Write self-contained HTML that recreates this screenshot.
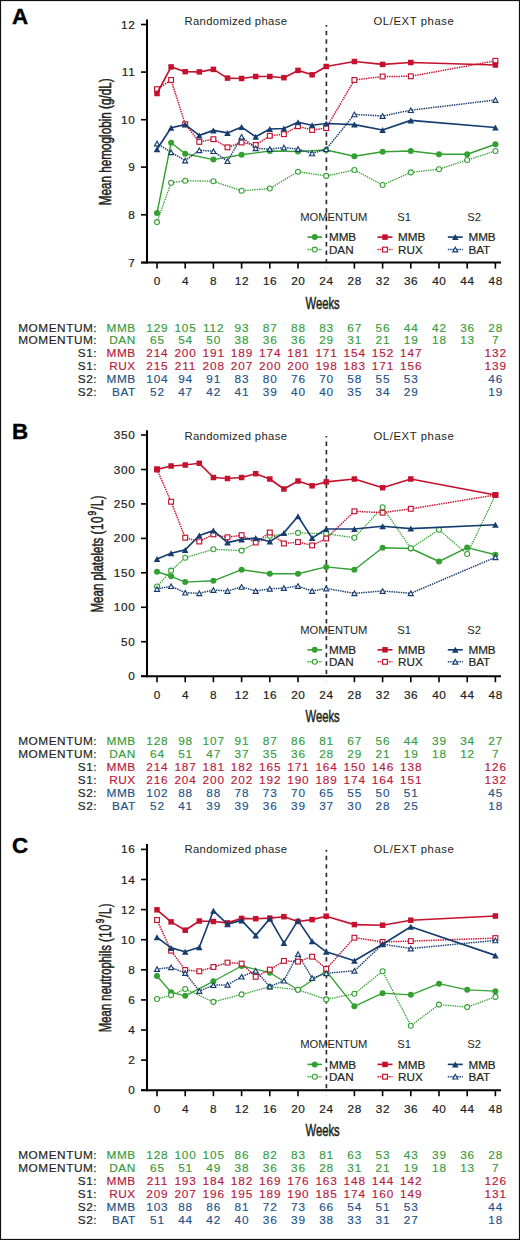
<!DOCTYPE html>
<html><head><meta charset="utf-8"><title>Figure</title>
<style>html,body{margin:0;padding:0;background:#fff;}body{width:520px;height:1240px;overflow:hidden;}svg{display:block;}</style>
</head><body>
<svg width="520" height="1240" viewBox="0 0 520 1240">
<style>text{font-family:"Liberation Sans",sans-serif}.tb{font-size:11.8px;letter-spacing:0.55px;stroke-width:0.18px}.tn{font-size:11.8px;letter-spacing:0.9px;stroke-width:0.15px}</style>
<rect x="0" y="0" width="520" height="1240" fill="#fff"/>
<text x="12.1" y="24.3" style="font-weight:bold;font-size:22.4px" fill="#000" stroke="#000" stroke-width="0.4">A</text>
<text x="184.4" y="24.6" textLength="102.6" lengthAdjust="spacing" style="font-family:'Liberation Sans',sans-serif;font-size:11.3px" fill="#231f20">Randomized phase</text>
<text x="373.5" y="24.6" textLength="80.3" lengthAdjust="spacing" style="font-family:'Liberation Sans',sans-serif;font-size:11.3px" fill="#231f20">OL/EXT phase</text>
<line x1="326.4" y1="25" x2="326.4" y2="262.6" stroke="#2c2c2c" stroke-width="1.65" stroke-dasharray="4.4 4.05" stroke-dashoffset="2.6"/>
<line x1="147" y1="19.4" x2="147" y2="263.6" stroke="#000" stroke-width="2"/>
<line x1="141" y1="262.6" x2="501" y2="262.6" stroke="#000" stroke-width="2"/>
<line x1="141" y1="24.5" x2="147" y2="24.5" stroke="#000" stroke-width="1.6"/>
<text x="135.3" y="28.5" text-anchor="end" style="font-family:'Liberation Sans',sans-serif;font-size:11.8px;letter-spacing:0.6px" fill="#231f20" stroke="#231f20" stroke-width="0.2">12</text>
<line x1="141" y1="72.1" x2="147" y2="72.1" stroke="#000" stroke-width="1.6"/>
<text x="135.3" y="76.1" text-anchor="end" style="font-family:'Liberation Sans',sans-serif;font-size:11.8px;letter-spacing:0.6px" fill="#231f20" stroke="#231f20" stroke-width="0.2">11</text>
<line x1="141" y1="119.7" x2="147" y2="119.7" stroke="#000" stroke-width="1.6"/>
<text x="135.3" y="123.7" text-anchor="end" style="font-family:'Liberation Sans',sans-serif;font-size:11.8px;letter-spacing:0.6px" fill="#231f20" stroke="#231f20" stroke-width="0.2">10</text>
<line x1="141" y1="167.1" x2="147" y2="167.1" stroke="#000" stroke-width="1.6"/>
<text x="135.3" y="171.1" text-anchor="end" style="font-family:'Liberation Sans',sans-serif;font-size:11.8px;letter-spacing:0.6px" fill="#231f20" stroke="#231f20" stroke-width="0.2">9</text>
<line x1="141" y1="214.8" x2="147" y2="214.8" stroke="#000" stroke-width="1.6"/>
<text x="135.3" y="218.8" text-anchor="end" style="font-family:'Liberation Sans',sans-serif;font-size:11.8px;letter-spacing:0.6px" fill="#231f20" stroke="#231f20" stroke-width="0.2">8</text>
<line x1="141" y1="262.6" x2="147" y2="262.6" stroke="#000" stroke-width="1.6"/>
<text x="135.3" y="266.6" text-anchor="end" style="font-family:'Liberation Sans',sans-serif;font-size:11.8px;letter-spacing:0.6px" fill="#231f20" stroke="#231f20" stroke-width="0.2">7</text>
<line x1="157" y1="262.6" x2="157" y2="268.6" stroke="#000" stroke-width="1.6"/>
<text x="157.3" y="285.1" text-anchor="middle" style="font-family:'Liberation Sans',sans-serif;font-size:11.8px;letter-spacing:0.6px" fill="#231f20" stroke="#231f20" stroke-width="0.2">0</text>
<line x1="185.2" y1="262.6" x2="185.2" y2="268.6" stroke="#000" stroke-width="1.6"/>
<text x="185.5" y="285.1" text-anchor="middle" style="font-family:'Liberation Sans',sans-serif;font-size:11.8px;letter-spacing:0.6px" fill="#231f20" stroke="#231f20" stroke-width="0.2">4</text>
<line x1="213.4" y1="262.6" x2="213.4" y2="268.6" stroke="#000" stroke-width="1.6"/>
<text x="213.7" y="285.1" text-anchor="middle" style="font-family:'Liberation Sans',sans-serif;font-size:11.8px;letter-spacing:0.6px" fill="#231f20" stroke="#231f20" stroke-width="0.2">8</text>
<line x1="241.6" y1="262.6" x2="241.6" y2="268.6" stroke="#000" stroke-width="1.6"/>
<text x="241.9" y="285.1" text-anchor="middle" style="font-family:'Liberation Sans',sans-serif;font-size:11.8px;letter-spacing:0.6px" fill="#231f20" stroke="#231f20" stroke-width="0.2">12</text>
<line x1="269.8" y1="262.6" x2="269.8" y2="268.6" stroke="#000" stroke-width="1.6"/>
<text x="270.1" y="285.1" text-anchor="middle" style="font-family:'Liberation Sans',sans-serif;font-size:11.8px;letter-spacing:0.6px" fill="#231f20" stroke="#231f20" stroke-width="0.2">16</text>
<line x1="298" y1="262.6" x2="298" y2="268.6" stroke="#000" stroke-width="1.6"/>
<text x="298.3" y="285.1" text-anchor="middle" style="font-family:'Liberation Sans',sans-serif;font-size:11.8px;letter-spacing:0.6px" fill="#231f20" stroke="#231f20" stroke-width="0.2">20</text>
<line x1="326.2" y1="267.6" x2="326.2" y2="268.8" stroke="#bbb" stroke-width="1"/>
<text x="326.5" y="285.1" text-anchor="middle" style="font-family:'Liberation Sans',sans-serif;font-size:11.8px;letter-spacing:0.6px" fill="#231f20" stroke="#231f20" stroke-width="0.2">24</text>
<line x1="354.4" y1="262.6" x2="354.4" y2="268.6" stroke="#000" stroke-width="1.6"/>
<text x="354.7" y="285.1" text-anchor="middle" style="font-family:'Liberation Sans',sans-serif;font-size:11.8px;letter-spacing:0.6px" fill="#231f20" stroke="#231f20" stroke-width="0.2">28</text>
<line x1="382.6" y1="262.6" x2="382.6" y2="268.6" stroke="#000" stroke-width="1.6"/>
<text x="382.9" y="285.1" text-anchor="middle" style="font-family:'Liberation Sans',sans-serif;font-size:11.8px;letter-spacing:0.6px" fill="#231f20" stroke="#231f20" stroke-width="0.2">32</text>
<line x1="410.8" y1="262.6" x2="410.8" y2="268.6" stroke="#000" stroke-width="1.6"/>
<text x="411.1" y="285.1" text-anchor="middle" style="font-family:'Liberation Sans',sans-serif;font-size:11.8px;letter-spacing:0.6px" fill="#231f20" stroke="#231f20" stroke-width="0.2">36</text>
<line x1="439" y1="262.6" x2="439" y2="268.6" stroke="#000" stroke-width="1.6"/>
<text x="439.3" y="285.1" text-anchor="middle" style="font-family:'Liberation Sans',sans-serif;font-size:11.8px;letter-spacing:0.6px" fill="#231f20" stroke="#231f20" stroke-width="0.2">40</text>
<line x1="467.2" y1="262.6" x2="467.2" y2="268.6" stroke="#000" stroke-width="1.6"/>
<text x="467.5" y="285.1" text-anchor="middle" style="font-family:'Liberation Sans',sans-serif;font-size:11.8px;letter-spacing:0.6px" fill="#231f20" stroke="#231f20" stroke-width="0.2">44</text>
<line x1="495.4" y1="262.6" x2="495.4" y2="268.6" stroke="#000" stroke-width="1.6"/>
<text x="495.7" y="285.1" text-anchor="middle" style="font-family:'Liberation Sans',sans-serif;font-size:11.8px;letter-spacing:0.6px" fill="#231f20" stroke="#231f20" stroke-width="0.2">48</text>
<text x="322.6" y="308.5" text-anchor="middle" textLength="34.2" lengthAdjust="spacingAndGlyphs" style="font-family:'Liberation Sans',sans-serif;font-size:16.6px" fill="#231f20" stroke="#231f20" stroke-width="0.5">Weeks</text>
<text transform="translate(111,141.8) rotate(-90)" x="0" y="0" text-anchor="middle" textLength="126.8" lengthAdjust="spacingAndGlyphs" style="font-family:'Liberation Sans',sans-serif;font-size:15.9px;font-weight:normal" fill="#231f20" stroke="#231f20" stroke-width="0.5">Mean hemoglobin (g/dL)</text>
<text x="300.2" y="220.8" style="font-family:'Liberation Sans',sans-serif;font-size:11.2px" fill="#231f20">MOMENTUM</text>
<text x="397.3" y="220.8" style="font-family:'Liberation Sans',sans-serif;font-size:11.2px" fill="#231f20">S1</text>
<text x="467.2" y="220.8" style="font-family:'Liberation Sans',sans-serif;font-size:11.2px" fill="#231f20">S2</text>
<line x1="307.5" y1="237.1" x2="322" y2="237.1" stroke="#34a032" stroke-width="1.65"/>
<circle cx="314.75" cy="237.1" r="3" fill="#34a032" stroke="none" stroke-width="0"/>
<text x="328.9" y="241.4" style="font-family:'Liberation Sans',sans-serif;font-size:11.7px" fill="#231f20" stroke="#231f20" stroke-width="0.2">MMB</text>
<line x1="307.5" y1="249.6" x2="322" y2="249.6" stroke="#34a032" stroke-width="1.5" stroke-dasharray="1.4 0.95"/>
<circle cx="314.75" cy="249.6" r="2.5" fill="#fff" stroke="#34a032" stroke-width="1.1"/>
<text x="328.9" y="253.9" style="font-family:'Liberation Sans',sans-serif;font-size:11.7px" fill="#231f20" stroke="#231f20" stroke-width="0.2">DAN</text>
<line x1="377.5" y1="237.1" x2="392.5" y2="237.1" stroke="#c5112d" stroke-width="1.65"/>
<rect x="382.25" y="234.35" width="5.5" height="5.5" fill="#c5112d" stroke="none" stroke-width="0"/>
<text x="398" y="241.4" style="font-family:'Liberation Sans',sans-serif;font-size:11.7px" fill="#231f20" stroke="#231f20" stroke-width="0.2">MMB</text>
<line x1="377.5" y1="249.6" x2="392.5" y2="249.6" stroke="#c5112d" stroke-width="1.5" stroke-dasharray="1.4 0.95"/>
<rect x="382.6" y="247.2" width="4.8" height="4.8" fill="#fff" stroke="#c5112d" stroke-width="1.15"/>
<text x="398" y="253.9" style="font-family:'Liberation Sans',sans-serif;font-size:11.7px" fill="#231f20" stroke="#231f20" stroke-width="0.2">RUX</text>
<line x1="447.8" y1="237.1" x2="462.8" y2="237.1" stroke="#163c70" stroke-width="1.65"/>
<polygon points="455.3,234.1 452,240.1 458.6,240.1" fill="#163c70" stroke="none" stroke-width="0" stroke-linejoin="miter"/>
<text x="468.4" y="241.4" style="font-family:'Liberation Sans',sans-serif;font-size:11.7px" fill="#231f20" stroke="#231f20" stroke-width="0.2">MMB</text>
<line x1="447.8" y1="249.6" x2="462.8" y2="249.6" stroke="#163c70" stroke-width="1.5" stroke-dasharray="1.4 0.95"/>
<polygon points="455.3,247.3 452.8,251.9 457.8,251.9" fill="#fff" stroke="#163c70" stroke-width="1.15" stroke-linejoin="miter"/>
<text x="468.4" y="253.9" style="font-family:'Liberation Sans',sans-serif;font-size:11.7px" fill="#231f20" stroke="#231f20" stroke-width="0.2">BAT</text>
<polyline points="157,213.1 171.1,142.7 185.2,153.8 213.4,159.6 241.6,154.8 269.8,151 298,151.5 326.2,150 354.4,156.2 382.6,151.7 410.8,151 439,154.2 467.2,154.2 495.4,144.2" fill="none" stroke="#34a032" stroke-width="1.45" stroke-linejoin="round"/>
<circle cx="157" cy="213.1" r="3" fill="#34a032" stroke="none" stroke-width="0"/>
<circle cx="171.1" cy="142.7" r="3" fill="#34a032" stroke="none" stroke-width="0"/>
<circle cx="185.2" cy="153.8" r="3" fill="#34a032" stroke="none" stroke-width="0"/>
<circle cx="213.4" cy="159.6" r="3" fill="#34a032" stroke="none" stroke-width="0"/>
<circle cx="241.6" cy="154.8" r="3" fill="#34a032" stroke="none" stroke-width="0"/>
<circle cx="269.8" cy="151" r="3" fill="#34a032" stroke="none" stroke-width="0"/>
<circle cx="298" cy="151.5" r="3" fill="#34a032" stroke="none" stroke-width="0"/>
<circle cx="326.2" cy="150" r="3" fill="#34a032" stroke="none" stroke-width="0"/>
<circle cx="354.4" cy="156.2" r="3" fill="#34a032" stroke="none" stroke-width="0"/>
<circle cx="382.6" cy="151.7" r="3" fill="#34a032" stroke="none" stroke-width="0"/>
<circle cx="410.8" cy="151" r="3" fill="#34a032" stroke="none" stroke-width="0"/>
<circle cx="439" cy="154.2" r="3" fill="#34a032" stroke="none" stroke-width="0"/>
<circle cx="467.2" cy="154.2" r="3" fill="#34a032" stroke="none" stroke-width="0"/>
<circle cx="495.4" cy="144.2" r="3" fill="#34a032" stroke="none" stroke-width="0"/>
<polyline points="157,222.1 171.1,182.7 185.2,180.8 213.4,181.2 241.6,190.8 269.8,188.5 298,171.7 326.2,175.9 354.4,170 382.6,185 410.8,172.4 439,169.2 467.2,160 495.4,151" fill="none" stroke="#34a032" stroke-width="1.3" stroke-dasharray="1.4 0.95" stroke-linejoin="round"/>
<circle cx="157" cy="222.1" r="2.5" fill="#fff" stroke="#34a032" stroke-width="1.1"/>
<circle cx="171.1" cy="182.7" r="2.5" fill="#fff" stroke="#34a032" stroke-width="1.1"/>
<circle cx="185.2" cy="180.8" r="2.5" fill="#fff" stroke="#34a032" stroke-width="1.1"/>
<circle cx="213.4" cy="181.2" r="2.5" fill="#fff" stroke="#34a032" stroke-width="1.1"/>
<circle cx="241.6" cy="190.8" r="2.5" fill="#fff" stroke="#34a032" stroke-width="1.1"/>
<circle cx="269.8" cy="188.5" r="2.5" fill="#fff" stroke="#34a032" stroke-width="1.1"/>
<circle cx="298" cy="171.7" r="2.5" fill="#fff" stroke="#34a032" stroke-width="1.1"/>
<circle cx="326.2" cy="175.9" r="2.5" fill="#fff" stroke="#34a032" stroke-width="1.1"/>
<circle cx="354.4" cy="170" r="2.5" fill="#fff" stroke="#34a032" stroke-width="1.1"/>
<circle cx="382.6" cy="185" r="2.5" fill="#fff" stroke="#34a032" stroke-width="1.1"/>
<circle cx="410.8" cy="172.4" r="2.5" fill="#fff" stroke="#34a032" stroke-width="1.1"/>
<circle cx="439" cy="169.2" r="2.5" fill="#fff" stroke="#34a032" stroke-width="1.1"/>
<circle cx="467.2" cy="160" r="2.5" fill="#fff" stroke="#34a032" stroke-width="1.1"/>
<circle cx="495.4" cy="151" r="2.5" fill="#fff" stroke="#34a032" stroke-width="1.1"/>
<polyline points="157,89.2 171.1,80 185.2,124.2 199.3,141.9 213.4,139.2 227.5,147.3 241.6,142.5 255.7,145 269.8,135.8 283.9,134.2 298,126.2 312.1,130 326.2,128.1 354.4,80 382.6,76.5 410.8,76.3 495.4,60.8" fill="none" stroke="#c5112d" stroke-width="1.5" stroke-dasharray="1.4 0.95" stroke-linejoin="round"/>
<rect x="154.6" y="86.8" width="4.8" height="4.8" fill="#fff" stroke="#c5112d" stroke-width="1.15"/>
<rect x="168.7" y="77.6" width="4.8" height="4.8" fill="#fff" stroke="#c5112d" stroke-width="1.15"/>
<rect x="182.8" y="121.8" width="4.8" height="4.8" fill="#fff" stroke="#c5112d" stroke-width="1.15"/>
<rect x="196.9" y="139.5" width="4.8" height="4.8" fill="#fff" stroke="#c5112d" stroke-width="1.15"/>
<rect x="211" y="136.8" width="4.8" height="4.8" fill="#fff" stroke="#c5112d" stroke-width="1.15"/>
<rect x="225.1" y="144.9" width="4.8" height="4.8" fill="#fff" stroke="#c5112d" stroke-width="1.15"/>
<rect x="239.2" y="140.1" width="4.8" height="4.8" fill="#fff" stroke="#c5112d" stroke-width="1.15"/>
<rect x="253.3" y="142.6" width="4.8" height="4.8" fill="#fff" stroke="#c5112d" stroke-width="1.15"/>
<rect x="267.4" y="133.4" width="4.8" height="4.8" fill="#fff" stroke="#c5112d" stroke-width="1.15"/>
<rect x="281.5" y="131.8" width="4.8" height="4.8" fill="#fff" stroke="#c5112d" stroke-width="1.15"/>
<rect x="295.6" y="123.8" width="4.8" height="4.8" fill="#fff" stroke="#c5112d" stroke-width="1.15"/>
<rect x="309.7" y="127.6" width="4.8" height="4.8" fill="#fff" stroke="#c5112d" stroke-width="1.15"/>
<rect x="323.8" y="125.7" width="4.8" height="4.8" fill="#fff" stroke="#c5112d" stroke-width="1.15"/>
<rect x="352" y="77.6" width="4.8" height="4.8" fill="#fff" stroke="#c5112d" stroke-width="1.15"/>
<rect x="380.2" y="74.1" width="4.8" height="4.8" fill="#fff" stroke="#c5112d" stroke-width="1.15"/>
<rect x="408.4" y="73.9" width="4.8" height="4.8" fill="#fff" stroke="#c5112d" stroke-width="1.15"/>
<rect x="493" y="58.4" width="4.8" height="4.8" fill="#fff" stroke="#c5112d" stroke-width="1.15"/>
<polyline points="157,93.5 171.1,66.9 185.2,71.7 199.3,71.9 213.4,69.4 227.5,78.1 241.6,78.5 255.7,76.5 269.8,76.5 283.9,77.7 298,70.4 312.1,74.8 326.2,66.5 354.4,61.5 382.6,64.4 410.8,62.5 495.4,65" fill="none" stroke="#c5112d" stroke-width="1.65" stroke-linejoin="round"/>
<rect x="154.25" y="90.75" width="5.5" height="5.5" fill="#c5112d" stroke="none" stroke-width="0"/>
<rect x="168.35" y="64.15" width="5.5" height="5.5" fill="#c5112d" stroke="none" stroke-width="0"/>
<rect x="182.45" y="68.95" width="5.5" height="5.5" fill="#c5112d" stroke="none" stroke-width="0"/>
<rect x="196.55" y="69.15" width="5.5" height="5.5" fill="#c5112d" stroke="none" stroke-width="0"/>
<rect x="210.65" y="66.65" width="5.5" height="5.5" fill="#c5112d" stroke="none" stroke-width="0"/>
<rect x="224.75" y="75.35" width="5.5" height="5.5" fill="#c5112d" stroke="none" stroke-width="0"/>
<rect x="238.85" y="75.75" width="5.5" height="5.5" fill="#c5112d" stroke="none" stroke-width="0"/>
<rect x="252.95" y="73.75" width="5.5" height="5.5" fill="#c5112d" stroke="none" stroke-width="0"/>
<rect x="267.05" y="73.75" width="5.5" height="5.5" fill="#c5112d" stroke="none" stroke-width="0"/>
<rect x="281.15" y="74.95" width="5.5" height="5.5" fill="#c5112d" stroke="none" stroke-width="0"/>
<rect x="295.25" y="67.65" width="5.5" height="5.5" fill="#c5112d" stroke="none" stroke-width="0"/>
<rect x="309.35" y="72.05" width="5.5" height="5.5" fill="#c5112d" stroke="none" stroke-width="0"/>
<rect x="323.45" y="63.75" width="5.5" height="5.5" fill="#c5112d" stroke="none" stroke-width="0"/>
<rect x="351.65" y="58.75" width="5.5" height="5.5" fill="#c5112d" stroke="none" stroke-width="0"/>
<rect x="379.85" y="61.65" width="5.5" height="5.5" fill="#c5112d" stroke="none" stroke-width="0"/>
<rect x="408.05" y="59.75" width="5.5" height="5.5" fill="#c5112d" stroke="none" stroke-width="0"/>
<rect x="492.65" y="62.25" width="5.5" height="5.5" fill="#c5112d" stroke="none" stroke-width="0"/>
<polyline points="157,143.5 171.1,152.3 185.2,160.6 199.3,150.3 213.4,151.2 227.5,161.2 241.6,136.8 255.7,148.3 269.8,149.1 283.9,147.5 298,149.1 312.1,153.4 326.2,149.2 354.4,114.4 382.6,116 410.8,110.2 495.4,100" fill="none" stroke="#163c70" stroke-width="1.5" stroke-dasharray="1.4 0.95" stroke-linejoin="round"/>
<polygon points="157,141.2 154.5,145.8 159.5,145.8" fill="#fff" stroke="#163c70" stroke-width="1.15" stroke-linejoin="miter"/>
<polygon points="171.1,150 168.6,154.6 173.6,154.6" fill="#fff" stroke="#163c70" stroke-width="1.15" stroke-linejoin="miter"/>
<polygon points="185.2,158.3 182.7,162.9 187.7,162.9" fill="#fff" stroke="#163c70" stroke-width="1.15" stroke-linejoin="miter"/>
<polygon points="199.3,148 196.8,152.6 201.8,152.6" fill="#fff" stroke="#163c70" stroke-width="1.15" stroke-linejoin="miter"/>
<polygon points="213.4,148.9 210.9,153.5 215.9,153.5" fill="#fff" stroke="#163c70" stroke-width="1.15" stroke-linejoin="miter"/>
<polygon points="227.5,158.9 225,163.5 230,163.5" fill="#fff" stroke="#163c70" stroke-width="1.15" stroke-linejoin="miter"/>
<polygon points="241.6,134.5 239.1,139.1 244.1,139.1" fill="#fff" stroke="#163c70" stroke-width="1.15" stroke-linejoin="miter"/>
<polygon points="255.7,146 253.2,150.6 258.2,150.6" fill="#fff" stroke="#163c70" stroke-width="1.15" stroke-linejoin="miter"/>
<polygon points="269.8,146.8 267.3,151.4 272.3,151.4" fill="#fff" stroke="#163c70" stroke-width="1.15" stroke-linejoin="miter"/>
<polygon points="283.9,145.2 281.4,149.8 286.4,149.8" fill="#fff" stroke="#163c70" stroke-width="1.15" stroke-linejoin="miter"/>
<polygon points="298,146.8 295.5,151.4 300.5,151.4" fill="#fff" stroke="#163c70" stroke-width="1.15" stroke-linejoin="miter"/>
<polygon points="312.1,151.1 309.6,155.7 314.6,155.7" fill="#fff" stroke="#163c70" stroke-width="1.15" stroke-linejoin="miter"/>
<polygon points="326.2,146.9 323.7,151.5 328.7,151.5" fill="#fff" stroke="#163c70" stroke-width="1.15" stroke-linejoin="miter"/>
<polygon points="354.4,112.1 351.9,116.7 356.9,116.7" fill="#fff" stroke="#163c70" stroke-width="1.15" stroke-linejoin="miter"/>
<polygon points="382.6,113.7 380.1,118.3 385.1,118.3" fill="#fff" stroke="#163c70" stroke-width="1.15" stroke-linejoin="miter"/>
<polygon points="410.8,107.9 408.3,112.5 413.3,112.5" fill="#fff" stroke="#163c70" stroke-width="1.15" stroke-linejoin="miter"/>
<polygon points="495.4,97.7 492.9,102.3 497.9,102.3" fill="#fff" stroke="#163c70" stroke-width="1.15" stroke-linejoin="miter"/>
<polyline points="157,149.2 171.1,127.7 185.2,124.6 199.3,135.4 213.4,130.4 227.5,132.9 241.6,127.1 255.7,136.7 269.8,129 283.9,128.5 298,122.3 312.1,125.2 326.2,123.5 354.4,124.6 382.6,130 410.8,120.4 495.4,127.5" fill="none" stroke="#163c70" stroke-width="1.65" stroke-linejoin="round"/>
<polygon points="157,146.2 153.7,152.2 160.3,152.2" fill="#163c70" stroke="none" stroke-width="0" stroke-linejoin="miter"/>
<polygon points="171.1,124.7 167.8,130.7 174.4,130.7" fill="#163c70" stroke="none" stroke-width="0" stroke-linejoin="miter"/>
<polygon points="185.2,121.6 181.9,127.6 188.5,127.6" fill="#163c70" stroke="none" stroke-width="0" stroke-linejoin="miter"/>
<polygon points="199.3,132.4 196,138.4 202.6,138.4" fill="#163c70" stroke="none" stroke-width="0" stroke-linejoin="miter"/>
<polygon points="213.4,127.4 210.1,133.4 216.7,133.4" fill="#163c70" stroke="none" stroke-width="0" stroke-linejoin="miter"/>
<polygon points="227.5,129.9 224.2,135.9 230.8,135.9" fill="#163c70" stroke="none" stroke-width="0" stroke-linejoin="miter"/>
<polygon points="241.6,124.1 238.3,130.1 244.9,130.1" fill="#163c70" stroke="none" stroke-width="0" stroke-linejoin="miter"/>
<polygon points="255.7,133.7 252.4,139.7 259,139.7" fill="#163c70" stroke="none" stroke-width="0" stroke-linejoin="miter"/>
<polygon points="269.8,126 266.5,132 273.1,132" fill="#163c70" stroke="none" stroke-width="0" stroke-linejoin="miter"/>
<polygon points="283.9,125.5 280.6,131.5 287.2,131.5" fill="#163c70" stroke="none" stroke-width="0" stroke-linejoin="miter"/>
<polygon points="298,119.3 294.7,125.3 301.3,125.3" fill="#163c70" stroke="none" stroke-width="0" stroke-linejoin="miter"/>
<polygon points="312.1,122.2 308.8,128.2 315.4,128.2" fill="#163c70" stroke="none" stroke-width="0" stroke-linejoin="miter"/>
<polygon points="326.2,120.5 322.9,126.5 329.5,126.5" fill="#163c70" stroke="none" stroke-width="0" stroke-linejoin="miter"/>
<polygon points="354.4,121.6 351.1,127.6 357.7,127.6" fill="#163c70" stroke="none" stroke-width="0" stroke-linejoin="miter"/>
<polygon points="382.6,127 379.3,133 385.9,133" fill="#163c70" stroke="none" stroke-width="0" stroke-linejoin="miter"/>
<polygon points="410.8,117.4 407.5,123.4 414.1,123.4" fill="#163c70" stroke="none" stroke-width="0" stroke-linejoin="miter"/>
<polygon points="495.4,124.5 492.1,130.5 498.7,130.5" fill="#163c70" stroke="none" stroke-width="0" stroke-linejoin="miter"/>
<text x="97.2" y="331.5" text-anchor="end" class="tb" fill="#231f20" stroke="#231f20">MOMENTUM:</text>
<text x="135.8" y="331.5" text-anchor="end" class="tb" fill="#379c3b" stroke="#379c3b">MMB</text>
<text x="157.4" y="331.5" text-anchor="middle" class="tn" fill="#379c3b" stroke="#379c3b">129</text>
<text x="185.6" y="331.5" text-anchor="middle" class="tn" fill="#379c3b" stroke="#379c3b">105</text>
<text x="213.8" y="331.5" text-anchor="middle" class="tn" fill="#379c3b" stroke="#379c3b">112</text>
<text x="242" y="331.5" text-anchor="middle" class="tn" fill="#379c3b" stroke="#379c3b">93</text>
<text x="270.2" y="331.5" text-anchor="middle" class="tn" fill="#379c3b" stroke="#379c3b">87</text>
<text x="298.4" y="331.5" text-anchor="middle" class="tn" fill="#379c3b" stroke="#379c3b">88</text>
<text x="326.6" y="331.5" text-anchor="middle" class="tn" fill="#379c3b" stroke="#379c3b">83</text>
<text x="354.8" y="331.5" text-anchor="middle" class="tn" fill="#379c3b" stroke="#379c3b">67</text>
<text x="383" y="331.5" text-anchor="middle" class="tn" fill="#379c3b" stroke="#379c3b">56</text>
<text x="411.2" y="331.5" text-anchor="middle" class="tn" fill="#379c3b" stroke="#379c3b">44</text>
<text x="439.4" y="331.5" text-anchor="middle" class="tn" fill="#379c3b" stroke="#379c3b">42</text>
<text x="467.6" y="331.5" text-anchor="middle" class="tn" fill="#379c3b" stroke="#379c3b">36</text>
<text x="495.8" y="331.5" text-anchor="middle" class="tn" fill="#379c3b" stroke="#379c3b">28</text>
<text x="97.2" y="344.3" text-anchor="end" class="tb" fill="#231f20" stroke="#231f20">MOMENTUM:</text>
<text x="135.8" y="344.3" text-anchor="end" class="tb" fill="#379c3b" stroke="#379c3b">DAN</text>
<text x="157.4" y="344.3" text-anchor="middle" class="tn" fill="#379c3b" stroke="#379c3b">65</text>
<text x="185.6" y="344.3" text-anchor="middle" class="tn" fill="#379c3b" stroke="#379c3b">54</text>
<text x="213.8" y="344.3" text-anchor="middle" class="tn" fill="#379c3b" stroke="#379c3b">50</text>
<text x="242" y="344.3" text-anchor="middle" class="tn" fill="#379c3b" stroke="#379c3b">38</text>
<text x="270.2" y="344.3" text-anchor="middle" class="tn" fill="#379c3b" stroke="#379c3b">36</text>
<text x="298.4" y="344.3" text-anchor="middle" class="tn" fill="#379c3b" stroke="#379c3b">36</text>
<text x="326.6" y="344.3" text-anchor="middle" class="tn" fill="#379c3b" stroke="#379c3b">29</text>
<text x="354.8" y="344.3" text-anchor="middle" class="tn" fill="#379c3b" stroke="#379c3b">31</text>
<text x="383" y="344.3" text-anchor="middle" class="tn" fill="#379c3b" stroke="#379c3b">21</text>
<text x="411.2" y="344.3" text-anchor="middle" class="tn" fill="#379c3b" stroke="#379c3b">19</text>
<text x="439.4" y="344.3" text-anchor="middle" class="tn" fill="#379c3b" stroke="#379c3b">18</text>
<text x="467.6" y="344.3" text-anchor="middle" class="tn" fill="#379c3b" stroke="#379c3b">13</text>
<text x="495.8" y="344.3" text-anchor="middle" class="tn" fill="#379c3b" stroke="#379c3b">7</text>
<text x="97.2" y="357.2" text-anchor="end" class="tb" fill="#231f20" stroke="#231f20">S1:</text>
<text x="135.8" y="357.2" text-anchor="end" class="tb" fill="#b61a3c" stroke="#b61a3c">MMB</text>
<text x="157.4" y="357.2" text-anchor="middle" class="tn" fill="#b61a3c" stroke="#b61a3c">214</text>
<text x="185.6" y="357.2" text-anchor="middle" class="tn" fill="#b61a3c" stroke="#b61a3c">200</text>
<text x="213.8" y="357.2" text-anchor="middle" class="tn" fill="#b61a3c" stroke="#b61a3c">191</text>
<text x="242" y="357.2" text-anchor="middle" class="tn" fill="#b61a3c" stroke="#b61a3c">189</text>
<text x="270.2" y="357.2" text-anchor="middle" class="tn" fill="#b61a3c" stroke="#b61a3c">174</text>
<text x="298.4" y="357.2" text-anchor="middle" class="tn" fill="#b61a3c" stroke="#b61a3c">181</text>
<text x="326.6" y="357.2" text-anchor="middle" class="tn" fill="#b61a3c" stroke="#b61a3c">171</text>
<text x="354.8" y="357.2" text-anchor="middle" class="tn" fill="#b61a3c" stroke="#b61a3c">154</text>
<text x="383" y="357.2" text-anchor="middle" class="tn" fill="#b61a3c" stroke="#b61a3c">152</text>
<text x="411.2" y="357.2" text-anchor="middle" class="tn" fill="#b61a3c" stroke="#b61a3c">147</text>
<text x="495.8" y="357.2" text-anchor="middle" class="tn" fill="#b61a3c" stroke="#b61a3c">132</text>
<text x="97.2" y="370.2" text-anchor="end" class="tb" fill="#231f20" stroke="#231f20">S1:</text>
<text x="135.8" y="370.2" text-anchor="end" class="tb" fill="#b61a3c" stroke="#b61a3c">RUX</text>
<text x="157.4" y="370.2" text-anchor="middle" class="tn" fill="#b61a3c" stroke="#b61a3c">215</text>
<text x="185.6" y="370.2" text-anchor="middle" class="tn" fill="#b61a3c" stroke="#b61a3c">211</text>
<text x="213.8" y="370.2" text-anchor="middle" class="tn" fill="#b61a3c" stroke="#b61a3c">208</text>
<text x="242" y="370.2" text-anchor="middle" class="tn" fill="#b61a3c" stroke="#b61a3c">207</text>
<text x="270.2" y="370.2" text-anchor="middle" class="tn" fill="#b61a3c" stroke="#b61a3c">200</text>
<text x="298.4" y="370.2" text-anchor="middle" class="tn" fill="#b61a3c" stroke="#b61a3c">200</text>
<text x="326.6" y="370.2" text-anchor="middle" class="tn" fill="#b61a3c" stroke="#b61a3c">198</text>
<text x="354.8" y="370.2" text-anchor="middle" class="tn" fill="#b61a3c" stroke="#b61a3c">183</text>
<text x="383" y="370.2" text-anchor="middle" class="tn" fill="#b61a3c" stroke="#b61a3c">171</text>
<text x="411.2" y="370.2" text-anchor="middle" class="tn" fill="#b61a3c" stroke="#b61a3c">156</text>
<text x="495.8" y="370.2" text-anchor="middle" class="tn" fill="#b61a3c" stroke="#b61a3c">139</text>
<text x="97.2" y="383.2" text-anchor="end" class="tb" fill="#231f20" stroke="#231f20">S2:</text>
<text x="135.8" y="383.2" text-anchor="end" class="tb" fill="#235387" stroke="#235387">MMB</text>
<text x="157.4" y="383.2" text-anchor="middle" class="tn" fill="#235387" stroke="#235387">104</text>
<text x="185.6" y="383.2" text-anchor="middle" class="tn" fill="#235387" stroke="#235387">94</text>
<text x="213.8" y="383.2" text-anchor="middle" class="tn" fill="#235387" stroke="#235387">91</text>
<text x="242" y="383.2" text-anchor="middle" class="tn" fill="#235387" stroke="#235387">83</text>
<text x="270.2" y="383.2" text-anchor="middle" class="tn" fill="#235387" stroke="#235387">80</text>
<text x="298.4" y="383.2" text-anchor="middle" class="tn" fill="#235387" stroke="#235387">76</text>
<text x="326.6" y="383.2" text-anchor="middle" class="tn" fill="#235387" stroke="#235387">70</text>
<text x="354.8" y="383.2" text-anchor="middle" class="tn" fill="#235387" stroke="#235387">58</text>
<text x="383" y="383.2" text-anchor="middle" class="tn" fill="#235387" stroke="#235387">55</text>
<text x="411.2" y="383.2" text-anchor="middle" class="tn" fill="#235387" stroke="#235387">53</text>
<text x="495.8" y="383.2" text-anchor="middle" class="tn" fill="#235387" stroke="#235387">46</text>
<text x="97.2" y="396.1" text-anchor="end" class="tb" fill="#231f20" stroke="#231f20">S2:</text>
<text x="135.8" y="396.1" text-anchor="end" class="tb" fill="#235387" stroke="#235387">BAT</text>
<text x="157.4" y="396.1" text-anchor="middle" class="tn" fill="#235387" stroke="#235387">52</text>
<text x="185.6" y="396.1" text-anchor="middle" class="tn" fill="#235387" stroke="#235387">47</text>
<text x="213.8" y="396.1" text-anchor="middle" class="tn" fill="#235387" stroke="#235387">42</text>
<text x="242" y="396.1" text-anchor="middle" class="tn" fill="#235387" stroke="#235387">41</text>
<text x="270.2" y="396.1" text-anchor="middle" class="tn" fill="#235387" stroke="#235387">39</text>
<text x="298.4" y="396.1" text-anchor="middle" class="tn" fill="#235387" stroke="#235387">40</text>
<text x="326.6" y="396.1" text-anchor="middle" class="tn" fill="#235387" stroke="#235387">40</text>
<text x="354.8" y="396.1" text-anchor="middle" class="tn" fill="#235387" stroke="#235387">35</text>
<text x="383" y="396.1" text-anchor="middle" class="tn" fill="#235387" stroke="#235387">34</text>
<text x="411.2" y="396.1" text-anchor="middle" class="tn" fill="#235387" stroke="#235387">29</text>
<text x="495.8" y="396.1" text-anchor="middle" class="tn" fill="#235387" stroke="#235387">19</text>
<text x="12.1" y="439.1" style="font-weight:bold;font-size:22.4px" fill="#000" stroke="#000" stroke-width="0.4">B</text>
<text x="184.4" y="439.6" textLength="102.6" lengthAdjust="spacing" style="font-family:'Liberation Sans',sans-serif;font-size:11.3px" fill="#231f20">Randomized phase</text>
<text x="373.5" y="439.6" textLength="80.3" lengthAdjust="spacing" style="font-family:'Liberation Sans',sans-serif;font-size:11.3px" fill="#231f20">OL/EXT phase</text>
<line x1="326.4" y1="436" x2="326.4" y2="676.2" stroke="#2c2c2c" stroke-width="1.65" stroke-dasharray="4.4 4.05" stroke-dashoffset="2.9"/>
<line x1="147" y1="430.2" x2="147" y2="677.2" stroke="#000" stroke-width="2"/>
<line x1="141" y1="676.2" x2="501" y2="676.2" stroke="#000" stroke-width="2"/>
<line x1="141" y1="435" x2="147" y2="435" stroke="#000" stroke-width="1.6"/>
<text x="135.3" y="439" text-anchor="end" style="font-family:'Liberation Sans',sans-serif;font-size:11.8px;letter-spacing:0.6px" fill="#231f20" stroke="#231f20" stroke-width="0.2">350</text>
<line x1="141" y1="469.5" x2="147" y2="469.5" stroke="#000" stroke-width="1.6"/>
<text x="135.3" y="473.5" text-anchor="end" style="font-family:'Liberation Sans',sans-serif;font-size:11.8px;letter-spacing:0.6px" fill="#231f20" stroke="#231f20" stroke-width="0.2">300</text>
<line x1="141" y1="503.9" x2="147" y2="503.9" stroke="#000" stroke-width="1.6"/>
<text x="135.3" y="507.9" text-anchor="end" style="font-family:'Liberation Sans',sans-serif;font-size:11.8px;letter-spacing:0.6px" fill="#231f20" stroke="#231f20" stroke-width="0.2">250</text>
<line x1="141" y1="538.4" x2="147" y2="538.4" stroke="#000" stroke-width="1.6"/>
<text x="135.3" y="542.4" text-anchor="end" style="font-family:'Liberation Sans',sans-serif;font-size:11.8px;letter-spacing:0.6px" fill="#231f20" stroke="#231f20" stroke-width="0.2">200</text>
<line x1="141" y1="572.8" x2="147" y2="572.8" stroke="#000" stroke-width="1.6"/>
<text x="135.3" y="576.8" text-anchor="end" style="font-family:'Liberation Sans',sans-serif;font-size:11.8px;letter-spacing:0.6px" fill="#231f20" stroke="#231f20" stroke-width="0.2">150</text>
<line x1="141" y1="607.3" x2="147" y2="607.3" stroke="#000" stroke-width="1.6"/>
<text x="135.3" y="611.3" text-anchor="end" style="font-family:'Liberation Sans',sans-serif;font-size:11.8px;letter-spacing:0.6px" fill="#231f20" stroke="#231f20" stroke-width="0.2">100</text>
<line x1="141" y1="641.7" x2="147" y2="641.7" stroke="#000" stroke-width="1.6"/>
<text x="135.3" y="645.7" text-anchor="end" style="font-family:'Liberation Sans',sans-serif;font-size:11.8px;letter-spacing:0.6px" fill="#231f20" stroke="#231f20" stroke-width="0.2">50</text>
<line x1="141" y1="676.2" x2="147" y2="676.2" stroke="#000" stroke-width="1.6"/>
<text x="135.3" y="680.2" text-anchor="end" style="font-family:'Liberation Sans',sans-serif;font-size:11.8px;letter-spacing:0.6px" fill="#231f20" stroke="#231f20" stroke-width="0.2">0</text>
<line x1="157" y1="676.2" x2="157" y2="682.2" stroke="#000" stroke-width="1.6"/>
<text x="157.3" y="698.7" text-anchor="middle" style="font-family:'Liberation Sans',sans-serif;font-size:11.8px;letter-spacing:0.6px" fill="#231f20" stroke="#231f20" stroke-width="0.2">0</text>
<line x1="185.2" y1="676.2" x2="185.2" y2="682.2" stroke="#000" stroke-width="1.6"/>
<text x="185.5" y="698.7" text-anchor="middle" style="font-family:'Liberation Sans',sans-serif;font-size:11.8px;letter-spacing:0.6px" fill="#231f20" stroke="#231f20" stroke-width="0.2">4</text>
<line x1="213.4" y1="676.2" x2="213.4" y2="682.2" stroke="#000" stroke-width="1.6"/>
<text x="213.7" y="698.7" text-anchor="middle" style="font-family:'Liberation Sans',sans-serif;font-size:11.8px;letter-spacing:0.6px" fill="#231f20" stroke="#231f20" stroke-width="0.2">8</text>
<line x1="241.6" y1="676.2" x2="241.6" y2="682.2" stroke="#000" stroke-width="1.6"/>
<text x="241.9" y="698.7" text-anchor="middle" style="font-family:'Liberation Sans',sans-serif;font-size:11.8px;letter-spacing:0.6px" fill="#231f20" stroke="#231f20" stroke-width="0.2">12</text>
<line x1="269.8" y1="676.2" x2="269.8" y2="682.2" stroke="#000" stroke-width="1.6"/>
<text x="270.1" y="698.7" text-anchor="middle" style="font-family:'Liberation Sans',sans-serif;font-size:11.8px;letter-spacing:0.6px" fill="#231f20" stroke="#231f20" stroke-width="0.2">16</text>
<line x1="298" y1="676.2" x2="298" y2="682.2" stroke="#000" stroke-width="1.6"/>
<text x="298.3" y="698.7" text-anchor="middle" style="font-family:'Liberation Sans',sans-serif;font-size:11.8px;letter-spacing:0.6px" fill="#231f20" stroke="#231f20" stroke-width="0.2">20</text>
<line x1="326.2" y1="681.2" x2="326.2" y2="682.4" stroke="#bbb" stroke-width="1"/>
<text x="326.5" y="698.7" text-anchor="middle" style="font-family:'Liberation Sans',sans-serif;font-size:11.8px;letter-spacing:0.6px" fill="#231f20" stroke="#231f20" stroke-width="0.2">24</text>
<line x1="354.4" y1="676.2" x2="354.4" y2="682.2" stroke="#000" stroke-width="1.6"/>
<text x="354.7" y="698.7" text-anchor="middle" style="font-family:'Liberation Sans',sans-serif;font-size:11.8px;letter-spacing:0.6px" fill="#231f20" stroke="#231f20" stroke-width="0.2">28</text>
<line x1="382.6" y1="676.2" x2="382.6" y2="682.2" stroke="#000" stroke-width="1.6"/>
<text x="382.9" y="698.7" text-anchor="middle" style="font-family:'Liberation Sans',sans-serif;font-size:11.8px;letter-spacing:0.6px" fill="#231f20" stroke="#231f20" stroke-width="0.2">32</text>
<line x1="410.8" y1="676.2" x2="410.8" y2="682.2" stroke="#000" stroke-width="1.6"/>
<text x="411.1" y="698.7" text-anchor="middle" style="font-family:'Liberation Sans',sans-serif;font-size:11.8px;letter-spacing:0.6px" fill="#231f20" stroke="#231f20" stroke-width="0.2">36</text>
<line x1="439" y1="676.2" x2="439" y2="682.2" stroke="#000" stroke-width="1.6"/>
<text x="439.3" y="698.7" text-anchor="middle" style="font-family:'Liberation Sans',sans-serif;font-size:11.8px;letter-spacing:0.6px" fill="#231f20" stroke="#231f20" stroke-width="0.2">40</text>
<line x1="467.2" y1="676.2" x2="467.2" y2="682.2" stroke="#000" stroke-width="1.6"/>
<text x="467.5" y="698.7" text-anchor="middle" style="font-family:'Liberation Sans',sans-serif;font-size:11.8px;letter-spacing:0.6px" fill="#231f20" stroke="#231f20" stroke-width="0.2">44</text>
<line x1="495.4" y1="676.2" x2="495.4" y2="682.2" stroke="#000" stroke-width="1.6"/>
<text x="495.7" y="698.7" text-anchor="middle" style="font-family:'Liberation Sans',sans-serif;font-size:11.8px;letter-spacing:0.6px" fill="#231f20" stroke="#231f20" stroke-width="0.2">48</text>
<text x="322.6" y="722.1" text-anchor="middle" textLength="34.2" lengthAdjust="spacingAndGlyphs" style="font-family:'Liberation Sans',sans-serif;font-size:16.6px" fill="#231f20" stroke="#231f20" stroke-width="0.5">Weeks</text>
<text transform="translate(103,553.6) rotate(-90)" x="0" y="0" text-anchor="middle" textLength="117.8" lengthAdjust="spacingAndGlyphs" style="font-family:'Liberation Sans',sans-serif;font-size:15.9px;font-weight:normal" fill="#231f20" stroke="#231f20" stroke-width="0.5">Mean platelets <tspan style="letter-spacing:0.9px">(10</tspan><tspan dx="0.6" dy="-7" style="font-size:11.5px">9</tspan><tspan dx="1" dy="7" style="letter-spacing:0.9px">/L)</tspan></text>
<text x="300.2" y="634.2" style="font-family:'Liberation Sans',sans-serif;font-size:11.2px" fill="#231f20">MOMENTUM</text>
<text x="397.3" y="634.2" style="font-family:'Liberation Sans',sans-serif;font-size:11.2px" fill="#231f20">S1</text>
<text x="467.2" y="634.2" style="font-family:'Liberation Sans',sans-serif;font-size:11.2px" fill="#231f20">S2</text>
<line x1="307.5" y1="649.8" x2="322" y2="649.8" stroke="#34a032" stroke-width="1.65"/>
<circle cx="314.75" cy="649.8" r="3" fill="#34a032" stroke="none" stroke-width="0"/>
<text x="328.9" y="654.1" style="font-family:'Liberation Sans',sans-serif;font-size:11.7px" fill="#231f20" stroke="#231f20" stroke-width="0.2">MMB</text>
<line x1="307.5" y1="661.8" x2="322" y2="661.8" stroke="#34a032" stroke-width="1.5" stroke-dasharray="1.4 0.95"/>
<circle cx="314.75" cy="661.8" r="2.5" fill="#fff" stroke="#34a032" stroke-width="1.1"/>
<text x="328.9" y="666.1" style="font-family:'Liberation Sans',sans-serif;font-size:11.7px" fill="#231f20" stroke="#231f20" stroke-width="0.2">DAN</text>
<line x1="377.5" y1="649.8" x2="392.5" y2="649.8" stroke="#c5112d" stroke-width="1.65"/>
<rect x="382.25" y="647.05" width="5.5" height="5.5" fill="#c5112d" stroke="none" stroke-width="0"/>
<text x="398" y="654.1" style="font-family:'Liberation Sans',sans-serif;font-size:11.7px" fill="#231f20" stroke="#231f20" stroke-width="0.2">MMB</text>
<line x1="377.5" y1="661.8" x2="392.5" y2="661.8" stroke="#c5112d" stroke-width="1.5" stroke-dasharray="1.4 0.95"/>
<rect x="382.6" y="659.4" width="4.8" height="4.8" fill="#fff" stroke="#c5112d" stroke-width="1.15"/>
<text x="398" y="666.1" style="font-family:'Liberation Sans',sans-serif;font-size:11.7px" fill="#231f20" stroke="#231f20" stroke-width="0.2">RUX</text>
<line x1="447.8" y1="649.8" x2="462.8" y2="649.8" stroke="#163c70" stroke-width="1.65"/>
<polygon points="455.3,646.8 452,652.8 458.6,652.8" fill="#163c70" stroke="none" stroke-width="0" stroke-linejoin="miter"/>
<text x="468.4" y="654.1" style="font-family:'Liberation Sans',sans-serif;font-size:11.7px" fill="#231f20" stroke="#231f20" stroke-width="0.2">MMB</text>
<line x1="447.8" y1="661.8" x2="462.8" y2="661.8" stroke="#163c70" stroke-width="1.5" stroke-dasharray="1.4 0.95"/>
<polygon points="455.3,659.5 452.8,664.1 457.8,664.1" fill="#fff" stroke="#163c70" stroke-width="1.15" stroke-linejoin="miter"/>
<text x="468.4" y="666.1" style="font-family:'Liberation Sans',sans-serif;font-size:11.7px" fill="#231f20" stroke="#231f20" stroke-width="0.2">BAT</text>
<polyline points="157,571.7 171.1,576.3 185.2,582.1 213.4,580.8 241.6,569.7 269.8,573.7 298,573.7 326.2,566.9 354.4,569.8 382.6,547.7 410.8,548.5 439,561.5 467.2,547.6 495.4,554.7" fill="none" stroke="#34a032" stroke-width="1.45" stroke-linejoin="round"/>
<circle cx="157" cy="571.7" r="3" fill="#34a032" stroke="none" stroke-width="0"/>
<circle cx="171.1" cy="576.3" r="3" fill="#34a032" stroke="none" stroke-width="0"/>
<circle cx="185.2" cy="582.1" r="3" fill="#34a032" stroke="none" stroke-width="0"/>
<circle cx="213.4" cy="580.8" r="3" fill="#34a032" stroke="none" stroke-width="0"/>
<circle cx="241.6" cy="569.7" r="3" fill="#34a032" stroke="none" stroke-width="0"/>
<circle cx="269.8" cy="573.7" r="3" fill="#34a032" stroke="none" stroke-width="0"/>
<circle cx="298" cy="573.7" r="3" fill="#34a032" stroke="none" stroke-width="0"/>
<circle cx="326.2" cy="566.9" r="3" fill="#34a032" stroke="none" stroke-width="0"/>
<circle cx="354.4" cy="569.8" r="3" fill="#34a032" stroke="none" stroke-width="0"/>
<circle cx="382.6" cy="547.7" r="3" fill="#34a032" stroke="none" stroke-width="0"/>
<circle cx="410.8" cy="548.5" r="3" fill="#34a032" stroke="none" stroke-width="0"/>
<circle cx="439" cy="561.5" r="3" fill="#34a032" stroke="none" stroke-width="0"/>
<circle cx="467.2" cy="547.6" r="3" fill="#34a032" stroke="none" stroke-width="0"/>
<circle cx="495.4" cy="554.7" r="3" fill="#34a032" stroke="none" stroke-width="0"/>
<polyline points="157,586.5 171.1,570.6 185.2,557.7 213.4,549.3 241.6,550.6 269.8,535.8 298,532.9 326.2,533.8 354.4,537.7 382.6,507.3 410.8,548.2 439,529.7 467.2,554 495.4,495" fill="none" stroke="#34a032" stroke-width="1.3" stroke-dasharray="1.4 0.95" stroke-linejoin="round"/>
<circle cx="157" cy="586.5" r="2.5" fill="#fff" stroke="#34a032" stroke-width="1.1"/>
<circle cx="171.1" cy="570.6" r="2.5" fill="#fff" stroke="#34a032" stroke-width="1.1"/>
<circle cx="185.2" cy="557.7" r="2.5" fill="#fff" stroke="#34a032" stroke-width="1.1"/>
<circle cx="213.4" cy="549.3" r="2.5" fill="#fff" stroke="#34a032" stroke-width="1.1"/>
<circle cx="241.6" cy="550.6" r="2.5" fill="#fff" stroke="#34a032" stroke-width="1.1"/>
<circle cx="269.8" cy="535.8" r="2.5" fill="#fff" stroke="#34a032" stroke-width="1.1"/>
<circle cx="298" cy="532.9" r="2.5" fill="#fff" stroke="#34a032" stroke-width="1.1"/>
<circle cx="326.2" cy="533.8" r="2.5" fill="#fff" stroke="#34a032" stroke-width="1.1"/>
<circle cx="354.4" cy="537.7" r="2.5" fill="#fff" stroke="#34a032" stroke-width="1.1"/>
<circle cx="382.6" cy="507.3" r="2.5" fill="#fff" stroke="#34a032" stroke-width="1.1"/>
<circle cx="410.8" cy="548.2" r="2.5" fill="#fff" stroke="#34a032" stroke-width="1.1"/>
<circle cx="439" cy="529.7" r="2.5" fill="#fff" stroke="#34a032" stroke-width="1.1"/>
<circle cx="467.2" cy="554" r="2.5" fill="#fff" stroke="#34a032" stroke-width="1.1"/>
<circle cx="495.4" cy="495" r="2.5" fill="#fff" stroke="#34a032" stroke-width="1.1"/>
<polyline points="157,469.4 171.1,501.7 185.2,537.7 199.3,541.5 213.4,534.4 227.5,537.3 241.6,535.2 255.7,542.5 269.8,532.5 283.9,543.5 298,542.1 312.1,545.4 326.2,538.5 354.4,511.3 382.6,512.7 410.8,508.8 495.4,495" fill="none" stroke="#c5112d" stroke-width="1.5" stroke-dasharray="1.4 0.95" stroke-linejoin="round"/>
<rect x="154.6" y="467" width="4.8" height="4.8" fill="#fff" stroke="#c5112d" stroke-width="1.15"/>
<rect x="168.7" y="499.3" width="4.8" height="4.8" fill="#fff" stroke="#c5112d" stroke-width="1.15"/>
<rect x="182.8" y="535.3" width="4.8" height="4.8" fill="#fff" stroke="#c5112d" stroke-width="1.15"/>
<rect x="196.9" y="539.1" width="4.8" height="4.8" fill="#fff" stroke="#c5112d" stroke-width="1.15"/>
<rect x="211" y="532" width="4.8" height="4.8" fill="#fff" stroke="#c5112d" stroke-width="1.15"/>
<rect x="225.1" y="534.9" width="4.8" height="4.8" fill="#fff" stroke="#c5112d" stroke-width="1.15"/>
<rect x="239.2" y="532.8" width="4.8" height="4.8" fill="#fff" stroke="#c5112d" stroke-width="1.15"/>
<rect x="253.3" y="540.1" width="4.8" height="4.8" fill="#fff" stroke="#c5112d" stroke-width="1.15"/>
<rect x="267.4" y="530.1" width="4.8" height="4.8" fill="#fff" stroke="#c5112d" stroke-width="1.15"/>
<rect x="281.5" y="541.1" width="4.8" height="4.8" fill="#fff" stroke="#c5112d" stroke-width="1.15"/>
<rect x="295.6" y="539.7" width="4.8" height="4.8" fill="#fff" stroke="#c5112d" stroke-width="1.15"/>
<rect x="309.7" y="543" width="4.8" height="4.8" fill="#fff" stroke="#c5112d" stroke-width="1.15"/>
<rect x="323.8" y="536.1" width="4.8" height="4.8" fill="#fff" stroke="#c5112d" stroke-width="1.15"/>
<rect x="352" y="508.9" width="4.8" height="4.8" fill="#fff" stroke="#c5112d" stroke-width="1.15"/>
<rect x="380.2" y="510.3" width="4.8" height="4.8" fill="#fff" stroke="#c5112d" stroke-width="1.15"/>
<rect x="408.4" y="506.4" width="4.8" height="4.8" fill="#fff" stroke="#c5112d" stroke-width="1.15"/>
<rect x="493" y="492.6" width="4.8" height="4.8" fill="#fff" stroke="#c5112d" stroke-width="1.15"/>
<polyline points="157,469.4 171.1,466 185.2,465 199.3,463.3 213.4,477.5 227.5,478.5 241.6,477.5 255.7,473.7 269.8,479 283.9,489 298,481 312.1,485.8 326.2,481.9 354.4,479 382.6,487.7 410.8,479 495.4,495" fill="none" stroke="#c5112d" stroke-width="1.65" stroke-linejoin="round"/>
<rect x="154.25" y="466.65" width="5.5" height="5.5" fill="#c5112d" stroke="none" stroke-width="0"/>
<rect x="168.35" y="463.25" width="5.5" height="5.5" fill="#c5112d" stroke="none" stroke-width="0"/>
<rect x="182.45" y="462.25" width="5.5" height="5.5" fill="#c5112d" stroke="none" stroke-width="0"/>
<rect x="196.55" y="460.55" width="5.5" height="5.5" fill="#c5112d" stroke="none" stroke-width="0"/>
<rect x="210.65" y="474.75" width="5.5" height="5.5" fill="#c5112d" stroke="none" stroke-width="0"/>
<rect x="224.75" y="475.75" width="5.5" height="5.5" fill="#c5112d" stroke="none" stroke-width="0"/>
<rect x="238.85" y="474.75" width="5.5" height="5.5" fill="#c5112d" stroke="none" stroke-width="0"/>
<rect x="252.95" y="470.95" width="5.5" height="5.5" fill="#c5112d" stroke="none" stroke-width="0"/>
<rect x="267.05" y="476.25" width="5.5" height="5.5" fill="#c5112d" stroke="none" stroke-width="0"/>
<rect x="281.15" y="486.25" width="5.5" height="5.5" fill="#c5112d" stroke="none" stroke-width="0"/>
<rect x="295.25" y="478.25" width="5.5" height="5.5" fill="#c5112d" stroke="none" stroke-width="0"/>
<rect x="309.35" y="483.05" width="5.5" height="5.5" fill="#c5112d" stroke="none" stroke-width="0"/>
<rect x="323.45" y="479.15" width="5.5" height="5.5" fill="#c5112d" stroke="none" stroke-width="0"/>
<rect x="351.65" y="476.25" width="5.5" height="5.5" fill="#c5112d" stroke="none" stroke-width="0"/>
<rect x="379.85" y="484.95" width="5.5" height="5.5" fill="#c5112d" stroke="none" stroke-width="0"/>
<rect x="408.05" y="476.25" width="5.5" height="5.5" fill="#c5112d" stroke="none" stroke-width="0"/>
<rect x="492.65" y="492.25" width="5.5" height="5.5" fill="#c5112d" stroke="none" stroke-width="0"/>
<polyline points="157,589 171.1,586.2 185.2,592.7 199.3,593.3 213.4,590 227.5,591 241.6,586.9 255.7,591 269.8,588.8 283.9,588.1 298,586 312.1,591 326.2,588.5 354.4,593.3 382.6,591 410.8,593.3 495.4,557.3" fill="none" stroke="#163c70" stroke-width="1.5" stroke-dasharray="1.4 0.95" stroke-linejoin="round"/>
<polygon points="157,586.7 154.5,591.3 159.5,591.3" fill="#fff" stroke="#163c70" stroke-width="1.15" stroke-linejoin="miter"/>
<polygon points="171.1,583.9 168.6,588.5 173.6,588.5" fill="#fff" stroke="#163c70" stroke-width="1.15" stroke-linejoin="miter"/>
<polygon points="185.2,590.4 182.7,595 187.7,595" fill="#fff" stroke="#163c70" stroke-width="1.15" stroke-linejoin="miter"/>
<polygon points="199.3,591 196.8,595.6 201.8,595.6" fill="#fff" stroke="#163c70" stroke-width="1.15" stroke-linejoin="miter"/>
<polygon points="213.4,587.7 210.9,592.3 215.9,592.3" fill="#fff" stroke="#163c70" stroke-width="1.15" stroke-linejoin="miter"/>
<polygon points="227.5,588.7 225,593.3 230,593.3" fill="#fff" stroke="#163c70" stroke-width="1.15" stroke-linejoin="miter"/>
<polygon points="241.6,584.6 239.1,589.2 244.1,589.2" fill="#fff" stroke="#163c70" stroke-width="1.15" stroke-linejoin="miter"/>
<polygon points="255.7,588.7 253.2,593.3 258.2,593.3" fill="#fff" stroke="#163c70" stroke-width="1.15" stroke-linejoin="miter"/>
<polygon points="269.8,586.5 267.3,591.1 272.3,591.1" fill="#fff" stroke="#163c70" stroke-width="1.15" stroke-linejoin="miter"/>
<polygon points="283.9,585.8 281.4,590.4 286.4,590.4" fill="#fff" stroke="#163c70" stroke-width="1.15" stroke-linejoin="miter"/>
<polygon points="298,583.7 295.5,588.3 300.5,588.3" fill="#fff" stroke="#163c70" stroke-width="1.15" stroke-linejoin="miter"/>
<polygon points="312.1,588.7 309.6,593.3 314.6,593.3" fill="#fff" stroke="#163c70" stroke-width="1.15" stroke-linejoin="miter"/>
<polygon points="326.2,586.2 323.7,590.8 328.7,590.8" fill="#fff" stroke="#163c70" stroke-width="1.15" stroke-linejoin="miter"/>
<polygon points="354.4,591 351.9,595.6 356.9,595.6" fill="#fff" stroke="#163c70" stroke-width="1.15" stroke-linejoin="miter"/>
<polygon points="382.6,588.7 380.1,593.3 385.1,593.3" fill="#fff" stroke="#163c70" stroke-width="1.15" stroke-linejoin="miter"/>
<polygon points="410.8,591 408.3,595.6 413.3,595.6" fill="#fff" stroke="#163c70" stroke-width="1.15" stroke-linejoin="miter"/>
<polygon points="495.4,555 492.9,559.6 497.9,559.6" fill="#fff" stroke="#163c70" stroke-width="1.15" stroke-linejoin="miter"/>
<polyline points="157,559 171.1,553.2 185.2,549.9 199.3,535.5 213.4,530.6 227.5,542.6 241.6,539.4 255.7,538.1 269.8,541.5 283.9,532.9 298,516.2 312.1,538.1 326.2,529 354.4,529 382.6,526.2 410.8,528.6 495.4,524.8" fill="none" stroke="#163c70" stroke-width="1.65" stroke-linejoin="round"/>
<polygon points="157,556 153.7,562 160.3,562" fill="#163c70" stroke="none" stroke-width="0" stroke-linejoin="miter"/>
<polygon points="171.1,550.2 167.8,556.2 174.4,556.2" fill="#163c70" stroke="none" stroke-width="0" stroke-linejoin="miter"/>
<polygon points="185.2,546.9 181.9,552.9 188.5,552.9" fill="#163c70" stroke="none" stroke-width="0" stroke-linejoin="miter"/>
<polygon points="199.3,532.5 196,538.5 202.6,538.5" fill="#163c70" stroke="none" stroke-width="0" stroke-linejoin="miter"/>
<polygon points="213.4,527.6 210.1,533.6 216.7,533.6" fill="#163c70" stroke="none" stroke-width="0" stroke-linejoin="miter"/>
<polygon points="227.5,539.6 224.2,545.6 230.8,545.6" fill="#163c70" stroke="none" stroke-width="0" stroke-linejoin="miter"/>
<polygon points="241.6,536.4 238.3,542.4 244.9,542.4" fill="#163c70" stroke="none" stroke-width="0" stroke-linejoin="miter"/>
<polygon points="255.7,535.1 252.4,541.1 259,541.1" fill="#163c70" stroke="none" stroke-width="0" stroke-linejoin="miter"/>
<polygon points="269.8,538.5 266.5,544.5 273.1,544.5" fill="#163c70" stroke="none" stroke-width="0" stroke-linejoin="miter"/>
<polygon points="283.9,529.9 280.6,535.9 287.2,535.9" fill="#163c70" stroke="none" stroke-width="0" stroke-linejoin="miter"/>
<polygon points="298,513.2 294.7,519.2 301.3,519.2" fill="#163c70" stroke="none" stroke-width="0" stroke-linejoin="miter"/>
<polygon points="312.1,535.1 308.8,541.1 315.4,541.1" fill="#163c70" stroke="none" stroke-width="0" stroke-linejoin="miter"/>
<polygon points="326.2,526 322.9,532 329.5,532" fill="#163c70" stroke="none" stroke-width="0" stroke-linejoin="miter"/>
<polygon points="354.4,526 351.1,532 357.7,532" fill="#163c70" stroke="none" stroke-width="0" stroke-linejoin="miter"/>
<polygon points="382.6,523.2 379.3,529.2 385.9,529.2" fill="#163c70" stroke="none" stroke-width="0" stroke-linejoin="miter"/>
<polygon points="410.8,525.6 407.5,531.6 414.1,531.6" fill="#163c70" stroke="none" stroke-width="0" stroke-linejoin="miter"/>
<polygon points="495.4,521.8 492.1,527.8 498.7,527.8" fill="#163c70" stroke="none" stroke-width="0" stroke-linejoin="miter"/>
<text x="97.2" y="745.3" text-anchor="end" class="tb" fill="#231f20" stroke="#231f20">MOMENTUM:</text>
<text x="135.8" y="745.3" text-anchor="end" class="tb" fill="#379c3b" stroke="#379c3b">MMB</text>
<text x="157.4" y="745.3" text-anchor="middle" class="tn" fill="#379c3b" stroke="#379c3b">128</text>
<text x="185.6" y="745.3" text-anchor="middle" class="tn" fill="#379c3b" stroke="#379c3b">98</text>
<text x="213.8" y="745.3" text-anchor="middle" class="tn" fill="#379c3b" stroke="#379c3b">107</text>
<text x="242" y="745.3" text-anchor="middle" class="tn" fill="#379c3b" stroke="#379c3b">91</text>
<text x="270.2" y="745.3" text-anchor="middle" class="tn" fill="#379c3b" stroke="#379c3b">87</text>
<text x="298.4" y="745.3" text-anchor="middle" class="tn" fill="#379c3b" stroke="#379c3b">86</text>
<text x="326.6" y="745.3" text-anchor="middle" class="tn" fill="#379c3b" stroke="#379c3b">81</text>
<text x="354.8" y="745.3" text-anchor="middle" class="tn" fill="#379c3b" stroke="#379c3b">67</text>
<text x="383" y="745.3" text-anchor="middle" class="tn" fill="#379c3b" stroke="#379c3b">56</text>
<text x="411.2" y="745.3" text-anchor="middle" class="tn" fill="#379c3b" stroke="#379c3b">44</text>
<text x="439.4" y="745.3" text-anchor="middle" class="tn" fill="#379c3b" stroke="#379c3b">39</text>
<text x="467.6" y="745.3" text-anchor="middle" class="tn" fill="#379c3b" stroke="#379c3b">34</text>
<text x="495.8" y="745.3" text-anchor="middle" class="tn" fill="#379c3b" stroke="#379c3b">27</text>
<text x="97.2" y="758.1" text-anchor="end" class="tb" fill="#231f20" stroke="#231f20">MOMENTUM:</text>
<text x="135.8" y="758.1" text-anchor="end" class="tb" fill="#379c3b" stroke="#379c3b">DAN</text>
<text x="157.4" y="758.1" text-anchor="middle" class="tn" fill="#379c3b" stroke="#379c3b">64</text>
<text x="185.6" y="758.1" text-anchor="middle" class="tn" fill="#379c3b" stroke="#379c3b">51</text>
<text x="213.8" y="758.1" text-anchor="middle" class="tn" fill="#379c3b" stroke="#379c3b">47</text>
<text x="242" y="758.1" text-anchor="middle" class="tn" fill="#379c3b" stroke="#379c3b">37</text>
<text x="270.2" y="758.1" text-anchor="middle" class="tn" fill="#379c3b" stroke="#379c3b">35</text>
<text x="298.4" y="758.1" text-anchor="middle" class="tn" fill="#379c3b" stroke="#379c3b">36</text>
<text x="326.6" y="758.1" text-anchor="middle" class="tn" fill="#379c3b" stroke="#379c3b">28</text>
<text x="354.8" y="758.1" text-anchor="middle" class="tn" fill="#379c3b" stroke="#379c3b">29</text>
<text x="383" y="758.1" text-anchor="middle" class="tn" fill="#379c3b" stroke="#379c3b">21</text>
<text x="411.2" y="758.1" text-anchor="middle" class="tn" fill="#379c3b" stroke="#379c3b">19</text>
<text x="439.4" y="758.1" text-anchor="middle" class="tn" fill="#379c3b" stroke="#379c3b">18</text>
<text x="467.6" y="758.1" text-anchor="middle" class="tn" fill="#379c3b" stroke="#379c3b">12</text>
<text x="495.8" y="758.1" text-anchor="middle" class="tn" fill="#379c3b" stroke="#379c3b">7</text>
<text x="97.2" y="771" text-anchor="end" class="tb" fill="#231f20" stroke="#231f20">S1:</text>
<text x="135.8" y="771" text-anchor="end" class="tb" fill="#b61a3c" stroke="#b61a3c">MMB</text>
<text x="157.4" y="771" text-anchor="middle" class="tn" fill="#b61a3c" stroke="#b61a3c">214</text>
<text x="185.6" y="771" text-anchor="middle" class="tn" fill="#b61a3c" stroke="#b61a3c">187</text>
<text x="213.8" y="771" text-anchor="middle" class="tn" fill="#b61a3c" stroke="#b61a3c">181</text>
<text x="242" y="771" text-anchor="middle" class="tn" fill="#b61a3c" stroke="#b61a3c">182</text>
<text x="270.2" y="771" text-anchor="middle" class="tn" fill="#b61a3c" stroke="#b61a3c">165</text>
<text x="298.4" y="771" text-anchor="middle" class="tn" fill="#b61a3c" stroke="#b61a3c">171</text>
<text x="326.6" y="771" text-anchor="middle" class="tn" fill="#b61a3c" stroke="#b61a3c">164</text>
<text x="354.8" y="771" text-anchor="middle" class="tn" fill="#b61a3c" stroke="#b61a3c">150</text>
<text x="383" y="771" text-anchor="middle" class="tn" fill="#b61a3c" stroke="#b61a3c">146</text>
<text x="411.2" y="771" text-anchor="middle" class="tn" fill="#b61a3c" stroke="#b61a3c">138</text>
<text x="495.8" y="771" text-anchor="middle" class="tn" fill="#b61a3c" stroke="#b61a3c">126</text>
<text x="97.2" y="784" text-anchor="end" class="tb" fill="#231f20" stroke="#231f20">S1:</text>
<text x="135.8" y="784" text-anchor="end" class="tb" fill="#b61a3c" stroke="#b61a3c">RUX</text>
<text x="157.4" y="784" text-anchor="middle" class="tn" fill="#b61a3c" stroke="#b61a3c">216</text>
<text x="185.6" y="784" text-anchor="middle" class="tn" fill="#b61a3c" stroke="#b61a3c">204</text>
<text x="213.8" y="784" text-anchor="middle" class="tn" fill="#b61a3c" stroke="#b61a3c">200</text>
<text x="242" y="784" text-anchor="middle" class="tn" fill="#b61a3c" stroke="#b61a3c">202</text>
<text x="270.2" y="784" text-anchor="middle" class="tn" fill="#b61a3c" stroke="#b61a3c">192</text>
<text x="298.4" y="784" text-anchor="middle" class="tn" fill="#b61a3c" stroke="#b61a3c">190</text>
<text x="326.6" y="784" text-anchor="middle" class="tn" fill="#b61a3c" stroke="#b61a3c">189</text>
<text x="354.8" y="784" text-anchor="middle" class="tn" fill="#b61a3c" stroke="#b61a3c">174</text>
<text x="383" y="784" text-anchor="middle" class="tn" fill="#b61a3c" stroke="#b61a3c">164</text>
<text x="411.2" y="784" text-anchor="middle" class="tn" fill="#b61a3c" stroke="#b61a3c">151</text>
<text x="495.8" y="784" text-anchor="middle" class="tn" fill="#b61a3c" stroke="#b61a3c">132</text>
<text x="97.2" y="797" text-anchor="end" class="tb" fill="#231f20" stroke="#231f20">S2:</text>
<text x="135.8" y="797" text-anchor="end" class="tb" fill="#235387" stroke="#235387">MMB</text>
<text x="157.4" y="797" text-anchor="middle" class="tn" fill="#235387" stroke="#235387">102</text>
<text x="185.6" y="797" text-anchor="middle" class="tn" fill="#235387" stroke="#235387">88</text>
<text x="213.8" y="797" text-anchor="middle" class="tn" fill="#235387" stroke="#235387">88</text>
<text x="242" y="797" text-anchor="middle" class="tn" fill="#235387" stroke="#235387">78</text>
<text x="270.2" y="797" text-anchor="middle" class="tn" fill="#235387" stroke="#235387">73</text>
<text x="298.4" y="797" text-anchor="middle" class="tn" fill="#235387" stroke="#235387">70</text>
<text x="326.6" y="797" text-anchor="middle" class="tn" fill="#235387" stroke="#235387">65</text>
<text x="354.8" y="797" text-anchor="middle" class="tn" fill="#235387" stroke="#235387">55</text>
<text x="383" y="797" text-anchor="middle" class="tn" fill="#235387" stroke="#235387">50</text>
<text x="411.2" y="797" text-anchor="middle" class="tn" fill="#235387" stroke="#235387">51</text>
<text x="495.8" y="797" text-anchor="middle" class="tn" fill="#235387" stroke="#235387">45</text>
<text x="97.2" y="809.9" text-anchor="end" class="tb" fill="#231f20" stroke="#231f20">S2:</text>
<text x="135.8" y="809.9" text-anchor="end" class="tb" fill="#235387" stroke="#235387">BAT</text>
<text x="157.4" y="809.9" text-anchor="middle" class="tn" fill="#235387" stroke="#235387">52</text>
<text x="185.6" y="809.9" text-anchor="middle" class="tn" fill="#235387" stroke="#235387">41</text>
<text x="213.8" y="809.9" text-anchor="middle" class="tn" fill="#235387" stroke="#235387">39</text>
<text x="242" y="809.9" text-anchor="middle" class="tn" fill="#235387" stroke="#235387">39</text>
<text x="270.2" y="809.9" text-anchor="middle" class="tn" fill="#235387" stroke="#235387">36</text>
<text x="298.4" y="809.9" text-anchor="middle" class="tn" fill="#235387" stroke="#235387">39</text>
<text x="326.6" y="809.9" text-anchor="middle" class="tn" fill="#235387" stroke="#235387">37</text>
<text x="354.8" y="809.9" text-anchor="middle" class="tn" fill="#235387" stroke="#235387">30</text>
<text x="383" y="809.9" text-anchor="middle" class="tn" fill="#235387" stroke="#235387">28</text>
<text x="411.2" y="809.9" text-anchor="middle" class="tn" fill="#235387" stroke="#235387">25</text>
<text x="495.8" y="809.9" text-anchor="middle" class="tn" fill="#235387" stroke="#235387">18</text>
<text x="12.1" y="852.9" style="font-weight:bold;font-size:22.4px" fill="#000" stroke="#000" stroke-width="0.4">C</text>
<text x="184.4" y="853.4" textLength="102.6" lengthAdjust="spacing" style="font-family:'Liberation Sans',sans-serif;font-size:11.3px" fill="#231f20">Randomized phase</text>
<text x="373.5" y="853.4" textLength="80.3" lengthAdjust="spacing" style="font-family:'Liberation Sans',sans-serif;font-size:11.3px" fill="#231f20">OL/EXT phase</text>
<line x1="326.4" y1="849.7" x2="326.4" y2="1090.2" stroke="#2c2c2c" stroke-width="1.65" stroke-dasharray="4.4 4.05" stroke-dashoffset="2.4"/>
<line x1="147" y1="844.1" x2="147" y2="1091.2" stroke="#000" stroke-width="2"/>
<line x1="141" y1="1090.2" x2="501" y2="1090.2" stroke="#000" stroke-width="2"/>
<line x1="141" y1="849.4" x2="147" y2="849.4" stroke="#000" stroke-width="1.6"/>
<text x="135.3" y="853.4" text-anchor="end" style="font-family:'Liberation Sans',sans-serif;font-size:11.8px;letter-spacing:0.6px" fill="#231f20" stroke="#231f20" stroke-width="0.2">16</text>
<line x1="141" y1="879.5" x2="147" y2="879.5" stroke="#000" stroke-width="1.6"/>
<text x="135.3" y="883.5" text-anchor="end" style="font-family:'Liberation Sans',sans-serif;font-size:11.8px;letter-spacing:0.6px" fill="#231f20" stroke="#231f20" stroke-width="0.2">14</text>
<line x1="141" y1="909.6" x2="147" y2="909.6" stroke="#000" stroke-width="1.6"/>
<text x="135.3" y="913.6" text-anchor="end" style="font-family:'Liberation Sans',sans-serif;font-size:11.8px;letter-spacing:0.6px" fill="#231f20" stroke="#231f20" stroke-width="0.2">12</text>
<line x1="141" y1="939.7" x2="147" y2="939.7" stroke="#000" stroke-width="1.6"/>
<text x="135.3" y="943.7" text-anchor="end" style="font-family:'Liberation Sans',sans-serif;font-size:11.8px;letter-spacing:0.6px" fill="#231f20" stroke="#231f20" stroke-width="0.2">10</text>
<line x1="141" y1="969.8" x2="147" y2="969.8" stroke="#000" stroke-width="1.6"/>
<text x="135.3" y="973.8" text-anchor="end" style="font-family:'Liberation Sans',sans-serif;font-size:11.8px;letter-spacing:0.6px" fill="#231f20" stroke="#231f20" stroke-width="0.2">8</text>
<line x1="141" y1="999.9" x2="147" y2="999.9" stroke="#000" stroke-width="1.6"/>
<text x="135.3" y="1003.9" text-anchor="end" style="font-family:'Liberation Sans',sans-serif;font-size:11.8px;letter-spacing:0.6px" fill="#231f20" stroke="#231f20" stroke-width="0.2">6</text>
<line x1="141" y1="1030" x2="147" y2="1030" stroke="#000" stroke-width="1.6"/>
<text x="135.3" y="1034" text-anchor="end" style="font-family:'Liberation Sans',sans-serif;font-size:11.8px;letter-spacing:0.6px" fill="#231f20" stroke="#231f20" stroke-width="0.2">4</text>
<line x1="141" y1="1060.1" x2="147" y2="1060.1" stroke="#000" stroke-width="1.6"/>
<text x="135.3" y="1064.1" text-anchor="end" style="font-family:'Liberation Sans',sans-serif;font-size:11.8px;letter-spacing:0.6px" fill="#231f20" stroke="#231f20" stroke-width="0.2">2</text>
<line x1="141" y1="1090.2" x2="147" y2="1090.2" stroke="#000" stroke-width="1.6"/>
<text x="135.3" y="1094.2" text-anchor="end" style="font-family:'Liberation Sans',sans-serif;font-size:11.8px;letter-spacing:0.6px" fill="#231f20" stroke="#231f20" stroke-width="0.2">0</text>
<line x1="157" y1="1090.2" x2="157" y2="1096.2" stroke="#000" stroke-width="1.6"/>
<text x="157.3" y="1112.7" text-anchor="middle" style="font-family:'Liberation Sans',sans-serif;font-size:11.8px;letter-spacing:0.6px" fill="#231f20" stroke="#231f20" stroke-width="0.2">0</text>
<line x1="185.2" y1="1090.2" x2="185.2" y2="1096.2" stroke="#000" stroke-width="1.6"/>
<text x="185.5" y="1112.7" text-anchor="middle" style="font-family:'Liberation Sans',sans-serif;font-size:11.8px;letter-spacing:0.6px" fill="#231f20" stroke="#231f20" stroke-width="0.2">4</text>
<line x1="213.4" y1="1090.2" x2="213.4" y2="1096.2" stroke="#000" stroke-width="1.6"/>
<text x="213.7" y="1112.7" text-anchor="middle" style="font-family:'Liberation Sans',sans-serif;font-size:11.8px;letter-spacing:0.6px" fill="#231f20" stroke="#231f20" stroke-width="0.2">8</text>
<line x1="241.6" y1="1090.2" x2="241.6" y2="1096.2" stroke="#000" stroke-width="1.6"/>
<text x="241.9" y="1112.7" text-anchor="middle" style="font-family:'Liberation Sans',sans-serif;font-size:11.8px;letter-spacing:0.6px" fill="#231f20" stroke="#231f20" stroke-width="0.2">12</text>
<line x1="269.8" y1="1090.2" x2="269.8" y2="1096.2" stroke="#000" stroke-width="1.6"/>
<text x="270.1" y="1112.7" text-anchor="middle" style="font-family:'Liberation Sans',sans-serif;font-size:11.8px;letter-spacing:0.6px" fill="#231f20" stroke="#231f20" stroke-width="0.2">16</text>
<line x1="298" y1="1090.2" x2="298" y2="1096.2" stroke="#000" stroke-width="1.6"/>
<text x="298.3" y="1112.7" text-anchor="middle" style="font-family:'Liberation Sans',sans-serif;font-size:11.8px;letter-spacing:0.6px" fill="#231f20" stroke="#231f20" stroke-width="0.2">20</text>
<line x1="326.2" y1="1095.2" x2="326.2" y2="1096.4" stroke="#bbb" stroke-width="1"/>
<text x="326.5" y="1112.7" text-anchor="middle" style="font-family:'Liberation Sans',sans-serif;font-size:11.8px;letter-spacing:0.6px" fill="#231f20" stroke="#231f20" stroke-width="0.2">24</text>
<line x1="354.4" y1="1090.2" x2="354.4" y2="1096.2" stroke="#000" stroke-width="1.6"/>
<text x="354.7" y="1112.7" text-anchor="middle" style="font-family:'Liberation Sans',sans-serif;font-size:11.8px;letter-spacing:0.6px" fill="#231f20" stroke="#231f20" stroke-width="0.2">28</text>
<line x1="382.6" y1="1090.2" x2="382.6" y2="1096.2" stroke="#000" stroke-width="1.6"/>
<text x="382.9" y="1112.7" text-anchor="middle" style="font-family:'Liberation Sans',sans-serif;font-size:11.8px;letter-spacing:0.6px" fill="#231f20" stroke="#231f20" stroke-width="0.2">32</text>
<line x1="410.8" y1="1090.2" x2="410.8" y2="1096.2" stroke="#000" stroke-width="1.6"/>
<text x="411.1" y="1112.7" text-anchor="middle" style="font-family:'Liberation Sans',sans-serif;font-size:11.8px;letter-spacing:0.6px" fill="#231f20" stroke="#231f20" stroke-width="0.2">36</text>
<line x1="439" y1="1090.2" x2="439" y2="1096.2" stroke="#000" stroke-width="1.6"/>
<text x="439.3" y="1112.7" text-anchor="middle" style="font-family:'Liberation Sans',sans-serif;font-size:11.8px;letter-spacing:0.6px" fill="#231f20" stroke="#231f20" stroke-width="0.2">40</text>
<line x1="467.2" y1="1090.2" x2="467.2" y2="1096.2" stroke="#000" stroke-width="1.6"/>
<text x="467.5" y="1112.7" text-anchor="middle" style="font-family:'Liberation Sans',sans-serif;font-size:11.8px;letter-spacing:0.6px" fill="#231f20" stroke="#231f20" stroke-width="0.2">44</text>
<line x1="495.4" y1="1090.2" x2="495.4" y2="1096.2" stroke="#000" stroke-width="1.6"/>
<text x="495.7" y="1112.7" text-anchor="middle" style="font-family:'Liberation Sans',sans-serif;font-size:11.8px;letter-spacing:0.6px" fill="#231f20" stroke="#231f20" stroke-width="0.2">48</text>
<text x="322.6" y="1136.1" text-anchor="middle" textLength="34.2" lengthAdjust="spacingAndGlyphs" style="font-family:'Liberation Sans',sans-serif;font-size:16.6px" fill="#231f20" stroke="#231f20" stroke-width="0.5">Weeks</text>
<text transform="translate(111,967.5) rotate(-90)" x="0" y="0" text-anchor="middle" textLength="129.3" lengthAdjust="spacingAndGlyphs" style="font-family:'Liberation Sans',sans-serif;font-size:15.9px;font-weight:normal" fill="#231f20" stroke="#231f20" stroke-width="0.5">Mean neutrophils <tspan style="letter-spacing:0.9px">(10</tspan><tspan dx="0.6" dy="-7" style="font-size:11.5px">9</tspan><tspan dx="1" dy="7" style="letter-spacing:0.9px">/L)</tspan></text>
<text x="300.2" y="1047.8" style="font-family:'Liberation Sans',sans-serif;font-size:11.2px" fill="#231f20">MOMENTUM</text>
<text x="397.3" y="1047.8" style="font-family:'Liberation Sans',sans-serif;font-size:11.2px" fill="#231f20">S1</text>
<text x="467.2" y="1047.8" style="font-family:'Liberation Sans',sans-serif;font-size:11.2px" fill="#231f20">S2</text>
<line x1="307.5" y1="1064.4" x2="322" y2="1064.4" stroke="#34a032" stroke-width="1.65"/>
<circle cx="314.75" cy="1064.4" r="3" fill="#34a032" stroke="none" stroke-width="0"/>
<text x="328.9" y="1068.7" style="font-family:'Liberation Sans',sans-serif;font-size:11.7px" fill="#231f20" stroke="#231f20" stroke-width="0.2">MMB</text>
<line x1="307.5" y1="1076.7" x2="322" y2="1076.7" stroke="#34a032" stroke-width="1.5" stroke-dasharray="1.4 0.95"/>
<circle cx="314.75" cy="1076.7" r="2.5" fill="#fff" stroke="#34a032" stroke-width="1.1"/>
<text x="328.9" y="1081" style="font-family:'Liberation Sans',sans-serif;font-size:11.7px" fill="#231f20" stroke="#231f20" stroke-width="0.2">DAN</text>
<line x1="377.5" y1="1064.4" x2="392.5" y2="1064.4" stroke="#c5112d" stroke-width="1.65"/>
<rect x="382.25" y="1061.65" width="5.5" height="5.5" fill="#c5112d" stroke="none" stroke-width="0"/>
<text x="398" y="1068.7" style="font-family:'Liberation Sans',sans-serif;font-size:11.7px" fill="#231f20" stroke="#231f20" stroke-width="0.2">MMB</text>
<line x1="377.5" y1="1076.7" x2="392.5" y2="1076.7" stroke="#c5112d" stroke-width="1.5" stroke-dasharray="1.4 0.95"/>
<rect x="382.6" y="1074.3" width="4.8" height="4.8" fill="#fff" stroke="#c5112d" stroke-width="1.15"/>
<text x="398" y="1081" style="font-family:'Liberation Sans',sans-serif;font-size:11.7px" fill="#231f20" stroke="#231f20" stroke-width="0.2">RUX</text>
<line x1="447.8" y1="1064.4" x2="462.8" y2="1064.4" stroke="#163c70" stroke-width="1.65"/>
<polygon points="455.3,1061.4 452,1067.4 458.6,1067.4" fill="#163c70" stroke="none" stroke-width="0" stroke-linejoin="miter"/>
<text x="468.4" y="1068.7" style="font-family:'Liberation Sans',sans-serif;font-size:11.7px" fill="#231f20" stroke="#231f20" stroke-width="0.2">MMB</text>
<line x1="447.8" y1="1076.7" x2="462.8" y2="1076.7" stroke="#163c70" stroke-width="1.5" stroke-dasharray="1.4 0.95"/>
<polygon points="455.3,1074.4 452.8,1079 457.8,1079" fill="#fff" stroke="#163c70" stroke-width="1.15" stroke-linejoin="miter"/>
<text x="468.4" y="1081" style="font-family:'Liberation Sans',sans-serif;font-size:11.7px" fill="#231f20" stroke="#231f20" stroke-width="0.2">BAT</text>
<polyline points="157,976 171.1,992.3 185.2,995.8 213.4,981.3 241.6,966 269.8,972.7 298,989.8 326.2,971 354.4,1006.3 382.6,993.2 410.8,994.8 439,983.7 467.2,989.8 495.4,991.2" fill="none" stroke="#34a032" stroke-width="1.3" stroke-linejoin="round"/>
<circle cx="157" cy="976" r="3" fill="#34a032" stroke="none" stroke-width="0"/>
<circle cx="171.1" cy="992.3" r="3" fill="#34a032" stroke="none" stroke-width="0"/>
<circle cx="185.2" cy="995.8" r="3" fill="#34a032" stroke="none" stroke-width="0"/>
<circle cx="213.4" cy="981.3" r="3" fill="#34a032" stroke="none" stroke-width="0"/>
<circle cx="241.6" cy="966" r="3" fill="#34a032" stroke="none" stroke-width="0"/>
<circle cx="269.8" cy="972.7" r="3" fill="#34a032" stroke="none" stroke-width="0"/>
<circle cx="298" cy="989.8" r="3" fill="#34a032" stroke="none" stroke-width="0"/>
<circle cx="326.2" cy="971" r="3" fill="#34a032" stroke="none" stroke-width="0"/>
<circle cx="354.4" cy="1006.3" r="3" fill="#34a032" stroke="none" stroke-width="0"/>
<circle cx="382.6" cy="993.2" r="3" fill="#34a032" stroke="none" stroke-width="0"/>
<circle cx="410.8" cy="994.8" r="3" fill="#34a032" stroke="none" stroke-width="0"/>
<circle cx="439" cy="983.7" r="3" fill="#34a032" stroke="none" stroke-width="0"/>
<circle cx="467.2" cy="989.8" r="3" fill="#34a032" stroke="none" stroke-width="0"/>
<circle cx="495.4" cy="991.2" r="3" fill="#34a032" stroke="none" stroke-width="0"/>
<polyline points="157,999 171.1,995.2 185.2,989 213.4,1001.9 241.6,994.4 269.8,986.7 298,989.8 326.2,999.4 354.4,993.8 382.6,971.2 410.8,1025.7 439,1004.6 467.2,1007.1 495.4,996.9" fill="none" stroke="#34a032" stroke-width="1.3" stroke-dasharray="1.4 0.95" stroke-linejoin="round"/>
<circle cx="157" cy="999" r="2.5" fill="#fff" stroke="#34a032" stroke-width="1.1"/>
<circle cx="171.1" cy="995.2" r="2.5" fill="#fff" stroke="#34a032" stroke-width="1.1"/>
<circle cx="185.2" cy="989" r="2.5" fill="#fff" stroke="#34a032" stroke-width="1.1"/>
<circle cx="213.4" cy="1001.9" r="2.5" fill="#fff" stroke="#34a032" stroke-width="1.1"/>
<circle cx="241.6" cy="994.4" r="2.5" fill="#fff" stroke="#34a032" stroke-width="1.1"/>
<circle cx="269.8" cy="986.7" r="2.5" fill="#fff" stroke="#34a032" stroke-width="1.1"/>
<circle cx="298" cy="989.8" r="2.5" fill="#fff" stroke="#34a032" stroke-width="1.1"/>
<circle cx="326.2" cy="999.4" r="2.5" fill="#fff" stroke="#34a032" stroke-width="1.1"/>
<circle cx="354.4" cy="993.8" r="2.5" fill="#fff" stroke="#34a032" stroke-width="1.1"/>
<circle cx="382.6" cy="971.2" r="2.5" fill="#fff" stroke="#34a032" stroke-width="1.1"/>
<circle cx="410.8" cy="1025.7" r="2.5" fill="#fff" stroke="#34a032" stroke-width="1.1"/>
<circle cx="439" cy="1004.6" r="2.5" fill="#fff" stroke="#34a032" stroke-width="1.1"/>
<circle cx="467.2" cy="1007.1" r="2.5" fill="#fff" stroke="#34a032" stroke-width="1.1"/>
<circle cx="495.4" cy="996.9" r="2.5" fill="#fff" stroke="#34a032" stroke-width="1.1"/>
<polyline points="157,920 171.1,950.7 185.2,970 199.3,971.3 213.4,967 227.5,962.6 241.6,963.6 255.7,976.8 269.8,969.6 283.9,960.9 298,961.6 312.1,956.7 326.2,968.9 354.4,937.7 382.6,941.9 410.8,941.1 495.4,938.1" fill="none" stroke="#c5112d" stroke-width="1.5" stroke-dasharray="1.4 0.95" stroke-linejoin="round"/>
<rect x="154.6" y="917.6" width="4.8" height="4.8" fill="#fff" stroke="#c5112d" stroke-width="1.15"/>
<rect x="168.7" y="948.3" width="4.8" height="4.8" fill="#fff" stroke="#c5112d" stroke-width="1.15"/>
<rect x="182.8" y="967.6" width="4.8" height="4.8" fill="#fff" stroke="#c5112d" stroke-width="1.15"/>
<rect x="196.9" y="968.9" width="4.8" height="4.8" fill="#fff" stroke="#c5112d" stroke-width="1.15"/>
<rect x="211" y="964.6" width="4.8" height="4.8" fill="#fff" stroke="#c5112d" stroke-width="1.15"/>
<rect x="225.1" y="960.2" width="4.8" height="4.8" fill="#fff" stroke="#c5112d" stroke-width="1.15"/>
<rect x="239.2" y="961.2" width="4.8" height="4.8" fill="#fff" stroke="#c5112d" stroke-width="1.15"/>
<rect x="253.3" y="974.4" width="4.8" height="4.8" fill="#fff" stroke="#c5112d" stroke-width="1.15"/>
<rect x="267.4" y="967.2" width="4.8" height="4.8" fill="#fff" stroke="#c5112d" stroke-width="1.15"/>
<rect x="281.5" y="958.5" width="4.8" height="4.8" fill="#fff" stroke="#c5112d" stroke-width="1.15"/>
<rect x="295.6" y="959.2" width="4.8" height="4.8" fill="#fff" stroke="#c5112d" stroke-width="1.15"/>
<rect x="309.7" y="954.3" width="4.8" height="4.8" fill="#fff" stroke="#c5112d" stroke-width="1.15"/>
<rect x="323.8" y="966.5" width="4.8" height="4.8" fill="#fff" stroke="#c5112d" stroke-width="1.15"/>
<rect x="352" y="935.3" width="4.8" height="4.8" fill="#fff" stroke="#c5112d" stroke-width="1.15"/>
<rect x="380.2" y="939.5" width="4.8" height="4.8" fill="#fff" stroke="#c5112d" stroke-width="1.15"/>
<rect x="408.4" y="938.7" width="4.8" height="4.8" fill="#fff" stroke="#c5112d" stroke-width="1.15"/>
<rect x="493" y="935.7" width="4.8" height="4.8" fill="#fff" stroke="#c5112d" stroke-width="1.15"/>
<polyline points="157,909.8 171.1,921.9 185.2,930.2 199.3,921 213.4,921.5 227.5,922.9 241.6,918.4 255.7,918.7 269.8,918.1 283.9,916.7 298,921.5 312.1,919.6 326.2,916.2 354.4,924.6 382.6,925.2 410.8,920.2 495.4,916" fill="none" stroke="#c5112d" stroke-width="1.65" stroke-linejoin="round"/>
<rect x="154.25" y="907.05" width="5.5" height="5.5" fill="#c5112d" stroke="none" stroke-width="0"/>
<rect x="168.35" y="919.15" width="5.5" height="5.5" fill="#c5112d" stroke="none" stroke-width="0"/>
<rect x="182.45" y="927.45" width="5.5" height="5.5" fill="#c5112d" stroke="none" stroke-width="0"/>
<rect x="196.55" y="918.25" width="5.5" height="5.5" fill="#c5112d" stroke="none" stroke-width="0"/>
<rect x="210.65" y="918.75" width="5.5" height="5.5" fill="#c5112d" stroke="none" stroke-width="0"/>
<rect x="224.75" y="920.15" width="5.5" height="5.5" fill="#c5112d" stroke="none" stroke-width="0"/>
<rect x="238.85" y="915.65" width="5.5" height="5.5" fill="#c5112d" stroke="none" stroke-width="0"/>
<rect x="252.95" y="915.95" width="5.5" height="5.5" fill="#c5112d" stroke="none" stroke-width="0"/>
<rect x="267.05" y="915.35" width="5.5" height="5.5" fill="#c5112d" stroke="none" stroke-width="0"/>
<rect x="281.15" y="913.95" width="5.5" height="5.5" fill="#c5112d" stroke="none" stroke-width="0"/>
<rect x="295.25" y="918.75" width="5.5" height="5.5" fill="#c5112d" stroke="none" stroke-width="0"/>
<rect x="309.35" y="916.85" width="5.5" height="5.5" fill="#c5112d" stroke="none" stroke-width="0"/>
<rect x="323.45" y="913.45" width="5.5" height="5.5" fill="#c5112d" stroke="none" stroke-width="0"/>
<rect x="351.65" y="921.85" width="5.5" height="5.5" fill="#c5112d" stroke="none" stroke-width="0"/>
<rect x="379.85" y="922.45" width="5.5" height="5.5" fill="#c5112d" stroke="none" stroke-width="0"/>
<rect x="408.05" y="917.45" width="5.5" height="5.5" fill="#c5112d" stroke="none" stroke-width="0"/>
<rect x="492.65" y="913.25" width="5.5" height="5.5" fill="#c5112d" stroke="none" stroke-width="0"/>
<polyline points="157,969.1 171.1,967.3 185.2,973.1 199.3,991 213.4,985.2 227.5,984.8 241.6,976.7 255.7,970.8 269.8,986.6 283.9,980.7 298,954.1 312.1,978.1 326.2,973.3 354.4,970.8 382.6,944.2 410.8,948.5 495.4,940.4" fill="none" stroke="#163c70" stroke-width="1.5" stroke-dasharray="1.4 0.95" stroke-linejoin="round"/>
<polygon points="157,966.8 154.5,971.4 159.5,971.4" fill="#fff" stroke="#163c70" stroke-width="1.15" stroke-linejoin="miter"/>
<polygon points="171.1,965 168.6,969.6 173.6,969.6" fill="#fff" stroke="#163c70" stroke-width="1.15" stroke-linejoin="miter"/>
<polygon points="185.2,970.8 182.7,975.4 187.7,975.4" fill="#fff" stroke="#163c70" stroke-width="1.15" stroke-linejoin="miter"/>
<polygon points="199.3,988.7 196.8,993.3 201.8,993.3" fill="#fff" stroke="#163c70" stroke-width="1.15" stroke-linejoin="miter"/>
<polygon points="213.4,982.9 210.9,987.5 215.9,987.5" fill="#fff" stroke="#163c70" stroke-width="1.15" stroke-linejoin="miter"/>
<polygon points="227.5,982.5 225,987.1 230,987.1" fill="#fff" stroke="#163c70" stroke-width="1.15" stroke-linejoin="miter"/>
<polygon points="241.6,974.4 239.1,979 244.1,979" fill="#fff" stroke="#163c70" stroke-width="1.15" stroke-linejoin="miter"/>
<polygon points="255.7,968.5 253.2,973.1 258.2,973.1" fill="#fff" stroke="#163c70" stroke-width="1.15" stroke-linejoin="miter"/>
<polygon points="269.8,984.3 267.3,988.9 272.3,988.9" fill="#fff" stroke="#163c70" stroke-width="1.15" stroke-linejoin="miter"/>
<polygon points="283.9,978.4 281.4,983 286.4,983" fill="#fff" stroke="#163c70" stroke-width="1.15" stroke-linejoin="miter"/>
<polygon points="298,951.8 295.5,956.4 300.5,956.4" fill="#fff" stroke="#163c70" stroke-width="1.15" stroke-linejoin="miter"/>
<polygon points="312.1,975.8 309.6,980.4 314.6,980.4" fill="#fff" stroke="#163c70" stroke-width="1.15" stroke-linejoin="miter"/>
<polygon points="326.2,971 323.7,975.6 328.7,975.6" fill="#fff" stroke="#163c70" stroke-width="1.15" stroke-linejoin="miter"/>
<polygon points="354.4,968.5 351.9,973.1 356.9,973.1" fill="#fff" stroke="#163c70" stroke-width="1.15" stroke-linejoin="miter"/>
<polygon points="382.6,941.9 380.1,946.5 385.1,946.5" fill="#fff" stroke="#163c70" stroke-width="1.15" stroke-linejoin="miter"/>
<polygon points="410.8,946.2 408.3,950.8 413.3,950.8" fill="#fff" stroke="#163c70" stroke-width="1.15" stroke-linejoin="miter"/>
<polygon points="495.4,938.1 492.9,942.7 497.9,942.7" fill="#fff" stroke="#163c70" stroke-width="1.15" stroke-linejoin="miter"/>
<polyline points="157,937.3 171.1,947.9 185.2,951.7 199.3,947.3 213.4,910.8 227.5,924.2 241.6,920.4 255.7,935.4 269.8,918.7 283.9,943.1 298,920.4 312.1,941.2 326.2,951.8 354.4,960.8 382.6,944.2 410.8,926.8 495.4,955.4" fill="none" stroke="#163c70" stroke-width="1.65" stroke-linejoin="round"/>
<polygon points="157,934.3 153.7,940.3 160.3,940.3" fill="#163c70" stroke="none" stroke-width="0" stroke-linejoin="miter"/>
<polygon points="171.1,944.9 167.8,950.9 174.4,950.9" fill="#163c70" stroke="none" stroke-width="0" stroke-linejoin="miter"/>
<polygon points="185.2,948.7 181.9,954.7 188.5,954.7" fill="#163c70" stroke="none" stroke-width="0" stroke-linejoin="miter"/>
<polygon points="199.3,944.3 196,950.3 202.6,950.3" fill="#163c70" stroke="none" stroke-width="0" stroke-linejoin="miter"/>
<polygon points="213.4,907.8 210.1,913.8 216.7,913.8" fill="#163c70" stroke="none" stroke-width="0" stroke-linejoin="miter"/>
<polygon points="227.5,921.2 224.2,927.2 230.8,927.2" fill="#163c70" stroke="none" stroke-width="0" stroke-linejoin="miter"/>
<polygon points="241.6,917.4 238.3,923.4 244.9,923.4" fill="#163c70" stroke="none" stroke-width="0" stroke-linejoin="miter"/>
<polygon points="255.7,932.4 252.4,938.4 259,938.4" fill="#163c70" stroke="none" stroke-width="0" stroke-linejoin="miter"/>
<polygon points="269.8,915.7 266.5,921.7 273.1,921.7" fill="#163c70" stroke="none" stroke-width="0" stroke-linejoin="miter"/>
<polygon points="283.9,940.1 280.6,946.1 287.2,946.1" fill="#163c70" stroke="none" stroke-width="0" stroke-linejoin="miter"/>
<polygon points="298,917.4 294.7,923.4 301.3,923.4" fill="#163c70" stroke="none" stroke-width="0" stroke-linejoin="miter"/>
<polygon points="312.1,938.2 308.8,944.2 315.4,944.2" fill="#163c70" stroke="none" stroke-width="0" stroke-linejoin="miter"/>
<polygon points="326.2,948.8 322.9,954.8 329.5,954.8" fill="#163c70" stroke="none" stroke-width="0" stroke-linejoin="miter"/>
<polygon points="354.4,957.8 351.1,963.8 357.7,963.8" fill="#163c70" stroke="none" stroke-width="0" stroke-linejoin="miter"/>
<polygon points="382.6,941.2 379.3,947.2 385.9,947.2" fill="#163c70" stroke="none" stroke-width="0" stroke-linejoin="miter"/>
<polygon points="410.8,923.8 407.5,929.8 414.1,929.8" fill="#163c70" stroke="none" stroke-width="0" stroke-linejoin="miter"/>
<polygon points="495.4,952.4 492.1,958.4 498.7,958.4" fill="#163c70" stroke="none" stroke-width="0" stroke-linejoin="miter"/>
<text x="97.2" y="1159.1" text-anchor="end" class="tb" fill="#231f20" stroke="#231f20">MOMENTUM:</text>
<text x="135.8" y="1159.1" text-anchor="end" class="tb" fill="#379c3b" stroke="#379c3b">MMB</text>
<text x="157.4" y="1159.1" text-anchor="middle" class="tn" fill="#379c3b" stroke="#379c3b">128</text>
<text x="185.6" y="1159.1" text-anchor="middle" class="tn" fill="#379c3b" stroke="#379c3b">100</text>
<text x="213.8" y="1159.1" text-anchor="middle" class="tn" fill="#379c3b" stroke="#379c3b">105</text>
<text x="242" y="1159.1" text-anchor="middle" class="tn" fill="#379c3b" stroke="#379c3b">86</text>
<text x="270.2" y="1159.1" text-anchor="middle" class="tn" fill="#379c3b" stroke="#379c3b">82</text>
<text x="298.4" y="1159.1" text-anchor="middle" class="tn" fill="#379c3b" stroke="#379c3b">83</text>
<text x="326.6" y="1159.1" text-anchor="middle" class="tn" fill="#379c3b" stroke="#379c3b">81</text>
<text x="354.8" y="1159.1" text-anchor="middle" class="tn" fill="#379c3b" stroke="#379c3b">63</text>
<text x="383" y="1159.1" text-anchor="middle" class="tn" fill="#379c3b" stroke="#379c3b">53</text>
<text x="411.2" y="1159.1" text-anchor="middle" class="tn" fill="#379c3b" stroke="#379c3b">43</text>
<text x="439.4" y="1159.1" text-anchor="middle" class="tn" fill="#379c3b" stroke="#379c3b">39</text>
<text x="467.6" y="1159.1" text-anchor="middle" class="tn" fill="#379c3b" stroke="#379c3b">36</text>
<text x="495.8" y="1159.1" text-anchor="middle" class="tn" fill="#379c3b" stroke="#379c3b">28</text>
<text x="97.2" y="1171.9" text-anchor="end" class="tb" fill="#231f20" stroke="#231f20">MOMENTUM:</text>
<text x="135.8" y="1171.9" text-anchor="end" class="tb" fill="#379c3b" stroke="#379c3b">DAN</text>
<text x="157.4" y="1171.9" text-anchor="middle" class="tn" fill="#379c3b" stroke="#379c3b">65</text>
<text x="185.6" y="1171.9" text-anchor="middle" class="tn" fill="#379c3b" stroke="#379c3b">51</text>
<text x="213.8" y="1171.9" text-anchor="middle" class="tn" fill="#379c3b" stroke="#379c3b">49</text>
<text x="242" y="1171.9" text-anchor="middle" class="tn" fill="#379c3b" stroke="#379c3b">38</text>
<text x="270.2" y="1171.9" text-anchor="middle" class="tn" fill="#379c3b" stroke="#379c3b">36</text>
<text x="298.4" y="1171.9" text-anchor="middle" class="tn" fill="#379c3b" stroke="#379c3b">36</text>
<text x="326.6" y="1171.9" text-anchor="middle" class="tn" fill="#379c3b" stroke="#379c3b">28</text>
<text x="354.8" y="1171.9" text-anchor="middle" class="tn" fill="#379c3b" stroke="#379c3b">31</text>
<text x="383" y="1171.9" text-anchor="middle" class="tn" fill="#379c3b" stroke="#379c3b">21</text>
<text x="411.2" y="1171.9" text-anchor="middle" class="tn" fill="#379c3b" stroke="#379c3b">19</text>
<text x="439.4" y="1171.9" text-anchor="middle" class="tn" fill="#379c3b" stroke="#379c3b">18</text>
<text x="467.6" y="1171.9" text-anchor="middle" class="tn" fill="#379c3b" stroke="#379c3b">13</text>
<text x="495.8" y="1171.9" text-anchor="middle" class="tn" fill="#379c3b" stroke="#379c3b">7</text>
<text x="97.2" y="1184.8" text-anchor="end" class="tb" fill="#231f20" stroke="#231f20">S1:</text>
<text x="135.8" y="1184.8" text-anchor="end" class="tb" fill="#b61a3c" stroke="#b61a3c">MMB</text>
<text x="157.4" y="1184.8" text-anchor="middle" class="tn" fill="#b61a3c" stroke="#b61a3c">211</text>
<text x="185.6" y="1184.8" text-anchor="middle" class="tn" fill="#b61a3c" stroke="#b61a3c">193</text>
<text x="213.8" y="1184.8" text-anchor="middle" class="tn" fill="#b61a3c" stroke="#b61a3c">184</text>
<text x="242" y="1184.8" text-anchor="middle" class="tn" fill="#b61a3c" stroke="#b61a3c">182</text>
<text x="270.2" y="1184.8" text-anchor="middle" class="tn" fill="#b61a3c" stroke="#b61a3c">169</text>
<text x="298.4" y="1184.8" text-anchor="middle" class="tn" fill="#b61a3c" stroke="#b61a3c">176</text>
<text x="326.6" y="1184.8" text-anchor="middle" class="tn" fill="#b61a3c" stroke="#b61a3c">163</text>
<text x="354.8" y="1184.8" text-anchor="middle" class="tn" fill="#b61a3c" stroke="#b61a3c">148</text>
<text x="383" y="1184.8" text-anchor="middle" class="tn" fill="#b61a3c" stroke="#b61a3c">144</text>
<text x="411.2" y="1184.8" text-anchor="middle" class="tn" fill="#b61a3c" stroke="#b61a3c">142</text>
<text x="495.8" y="1184.8" text-anchor="middle" class="tn" fill="#b61a3c" stroke="#b61a3c">126</text>
<text x="97.2" y="1197.8" text-anchor="end" class="tb" fill="#231f20" stroke="#231f20">S1:</text>
<text x="135.8" y="1197.8" text-anchor="end" class="tb" fill="#b61a3c" stroke="#b61a3c">RUX</text>
<text x="157.4" y="1197.8" text-anchor="middle" class="tn" fill="#b61a3c" stroke="#b61a3c">209</text>
<text x="185.6" y="1197.8" text-anchor="middle" class="tn" fill="#b61a3c" stroke="#b61a3c">207</text>
<text x="213.8" y="1197.8" text-anchor="middle" class="tn" fill="#b61a3c" stroke="#b61a3c">196</text>
<text x="242" y="1197.8" text-anchor="middle" class="tn" fill="#b61a3c" stroke="#b61a3c">195</text>
<text x="270.2" y="1197.8" text-anchor="middle" class="tn" fill="#b61a3c" stroke="#b61a3c">189</text>
<text x="298.4" y="1197.8" text-anchor="middle" class="tn" fill="#b61a3c" stroke="#b61a3c">190</text>
<text x="326.6" y="1197.8" text-anchor="middle" class="tn" fill="#b61a3c" stroke="#b61a3c">185</text>
<text x="354.8" y="1197.8" text-anchor="middle" class="tn" fill="#b61a3c" stroke="#b61a3c">174</text>
<text x="383" y="1197.8" text-anchor="middle" class="tn" fill="#b61a3c" stroke="#b61a3c">160</text>
<text x="411.2" y="1197.8" text-anchor="middle" class="tn" fill="#b61a3c" stroke="#b61a3c">149</text>
<text x="495.8" y="1197.8" text-anchor="middle" class="tn" fill="#b61a3c" stroke="#b61a3c">131</text>
<text x="97.2" y="1210.8" text-anchor="end" class="tb" fill="#231f20" stroke="#231f20">S2:</text>
<text x="135.8" y="1210.8" text-anchor="end" class="tb" fill="#235387" stroke="#235387">MMB</text>
<text x="157.4" y="1210.8" text-anchor="middle" class="tn" fill="#235387" stroke="#235387">103</text>
<text x="185.6" y="1210.8" text-anchor="middle" class="tn" fill="#235387" stroke="#235387">88</text>
<text x="213.8" y="1210.8" text-anchor="middle" class="tn" fill="#235387" stroke="#235387">86</text>
<text x="242" y="1210.8" text-anchor="middle" class="tn" fill="#235387" stroke="#235387">81</text>
<text x="270.2" y="1210.8" text-anchor="middle" class="tn" fill="#235387" stroke="#235387">72</text>
<text x="298.4" y="1210.8" text-anchor="middle" class="tn" fill="#235387" stroke="#235387">73</text>
<text x="326.6" y="1210.8" text-anchor="middle" class="tn" fill="#235387" stroke="#235387">66</text>
<text x="354.8" y="1210.8" text-anchor="middle" class="tn" fill="#235387" stroke="#235387">54</text>
<text x="383" y="1210.8" text-anchor="middle" class="tn" fill="#235387" stroke="#235387">51</text>
<text x="411.2" y="1210.8" text-anchor="middle" class="tn" fill="#235387" stroke="#235387">53</text>
<text x="495.8" y="1210.8" text-anchor="middle" class="tn" fill="#235387" stroke="#235387">44</text>
<text x="97.2" y="1223.7" text-anchor="end" class="tb" fill="#231f20" stroke="#231f20">S2:</text>
<text x="135.8" y="1223.7" text-anchor="end" class="tb" fill="#235387" stroke="#235387">BAT</text>
<text x="157.4" y="1223.7" text-anchor="middle" class="tn" fill="#235387" stroke="#235387">51</text>
<text x="185.6" y="1223.7" text-anchor="middle" class="tn" fill="#235387" stroke="#235387">44</text>
<text x="213.8" y="1223.7" text-anchor="middle" class="tn" fill="#235387" stroke="#235387">42</text>
<text x="242" y="1223.7" text-anchor="middle" class="tn" fill="#235387" stroke="#235387">40</text>
<text x="270.2" y="1223.7" text-anchor="middle" class="tn" fill="#235387" stroke="#235387">36</text>
<text x="298.4" y="1223.7" text-anchor="middle" class="tn" fill="#235387" stroke="#235387">39</text>
<text x="326.6" y="1223.7" text-anchor="middle" class="tn" fill="#235387" stroke="#235387">38</text>
<text x="354.8" y="1223.7" text-anchor="middle" class="tn" fill="#235387" stroke="#235387">33</text>
<text x="383" y="1223.7" text-anchor="middle" class="tn" fill="#235387" stroke="#235387">31</text>
<text x="411.2" y="1223.7" text-anchor="middle" class="tn" fill="#235387" stroke="#235387">27</text>
<text x="495.8" y="1223.7" text-anchor="middle" class="tn" fill="#235387" stroke="#235387">18</text>
<rect x="0.5" y="0.5" width="519" height="1239" fill="none" stroke="#111" stroke-width="1.2"/>
</svg>
</body></html>
